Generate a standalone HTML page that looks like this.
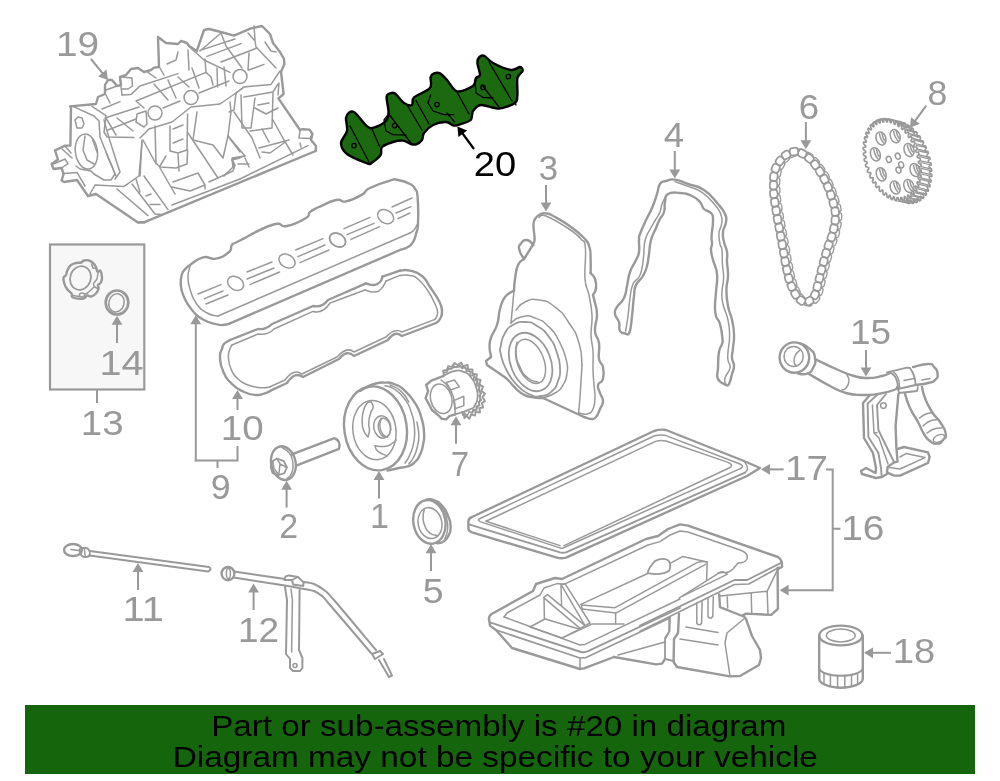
<!DOCTYPE html>
<html><head><meta charset="utf-8"><title>Engine parts diagram</title>
<style>
html,body{margin:0;padding:0;background:#fff;}
body{width:1000px;height:781px;overflow:hidden;font-family:"Liberation Sans",sans-serif;}
svg{display:block;position:absolute;left:0;top:0;will-change:transform;}
.g{fill:none;stroke:#999;stroke-width:2.4;stroke-linejoin:round;stroke-linecap:round;}
.t{fill:none;stroke:#999;stroke-width:1.5;stroke-linejoin:round;stroke-linecap:round;}
.w{fill:#fff;stroke:#999;stroke-width:2;stroke-linejoin:round;stroke-linecap:round;}
.lbl{font-family:"Liberation Sans",sans-serif;font-size:35px;fill:#999;}
.a{fill:#999;stroke:none;}
.gr{fill:#1b6a10;stroke:#000;stroke-width:2.4;stroke-linejoin:round;}
.gl{fill:none;stroke:#000;stroke-width:1.3;stroke-linecap:round;stroke-linejoin:round;}
.ab{fill:#000;stroke:none;}
</style></head>
<body>
<svg width="1000" height="781" viewBox="0 0 1000 781">
<rect x="0" y="0" width="1000" height="781" fill="#fff"/>
<!-- BANNER -->
<rect x="25" y="705" width="950" height="69" fill="#15650c"/>
<!-- box 13 with cap and ring 14 -->
<rect x="50" y="244.5" width="94.3" height="145" fill="#f7f7f7" stroke="#999" stroke-width="2.2"/>
<path class="g" d="M 63.5 278.0 C 63.9 275.9 65.1 276.9 66.0 275.0 C 66.9 273.1 66.3 272.3 67.5 270.0 C 68.7 267.7 69.0 266.6 71.0 265.0 C 73.0 263.4 73.7 263.6 76.0 263.0 C 78.3 262.4 79.1 263.1 81.0 262.5 C 82.9 261.9 82.1 261.0 84.0 260.5 C 85.9 260.0 86.9 259.9 89.0 260.5 C 91.1 261.1 91.4 261.5 93.0 263.0 C 94.6 264.5 95.0 265.0 96.0 267.0 C 97.0 269.0 96.5 270.6 97.5 271.5 C 98.5 272.4 99.5 269.5 100.5 271.0 C 101.5 272.5 102.0 275.2 102.0 278.0 C 102.0 280.8 101.4 281.4 100.5 283.0 C 99.6 284.6 98.5 283.6 98.0 285.0 C 97.5 286.4 99.1 286.9 98.5 289.0 C 97.9 291.1 97.2 292.2 95.5 294.0 C 93.8 295.8 93.0 296.1 91.0 296.5 C 89.0 296.9 88.8 295.0 87.0 295.5 C 85.2 296.0 86.8 298.0 83.5 298.5 C 80.2 299.0 75.8 298.7 73.0 297.5 C 70.2 296.3 72.9 295.5 71.5 293.5 C 70.1 291.5 68.6 291.2 67.0 289.0 C 65.4 286.8 65.3 286.6 64.5 284.0 C 63.7 281.4 63.1 280.1 63.5 278.0 Z"/>
<ellipse class="t" cx="80.5" cy="278.0" rx="10.3" ry="12.0" transform="rotate(20 80.5 278.0)" style="stroke-width:1.8"/>
<path class="t" d="M 91.5 264.0 L 93.0 268.0 L 95.5 268.5 M 98.0 273.0 L 97.0 279.0 L 93.5 283.5 L 94.0 286.5 L 97.5 288.5 M 93.5 287.5 L 87.5 293.0 L 85.5 294.0 M 73.0 295.5 L 79.0 296.5"/>
<ellipse class="t" cx="82.0" cy="295.0" rx="2.5" ry="2.0" transform="rotate(0 82.0 295.0)"/>
<ellipse class="g" cx="117.0" cy="302.5" rx="11.3" ry="12.0" transform="rotate(0 117.0 302.5)" style="stroke-width:2.6"/>
<ellipse class="t" cx="116.5" cy="302.8" rx="7.6" ry="9.2" transform="rotate(15 116.5 302.8)"/>
<!-- dipstick 11 -->
<ellipse class="g" cx="73.0" cy="550.0" rx="9.0" ry="6.0" transform="rotate(0 73.0 550.0)"/>
<path class="t" d="M 71.0 549.6 L 80.0 550.8"/>
<path class="g" d="M 80.0 549.0 C 81.3 547.9 82.6 547.7 85.0 548.0 C 87.4 548.3 87.8 548.1 89.0 550.0 C 90.2 551.9 90.4 553.1 89.6 555.0 C 88.8 556.9 88.0 556.7 86.0 557.0 C 84.0 557.3 83.6 557.3 82.0 556.0 C 80.4 554.7 80.5 553.9 80.0 552.0 C 79.5 550.1 78.7 550.1 80.0 549.0 Z" style="stroke-width:2"/>
<path class="t" d="M 84.4 548.4 L 85.2 556.8"/>
<path class="g" d="M 90.0 551.0 L 209.0 567.0 Q 212.4 569.2 208.0 571.6 L 89.6 555.6" style="stroke-width:2"/>
<!-- tube 12 -->
<ellipse class="g" cx="228.0" cy="573.6" rx="6.4" ry="6.6" transform="rotate(0 228.0 573.6)"/>
<ellipse class="t" cx="228.4" cy="573.6" rx="2.0" ry="5.0" transform="rotate(0 228.4 573.6)"/>
<path class="g" d="M 234.0 571.6 C 242.5 572.8 273.3 577.3 285.0 579.0 C 296.7 580.7 299.2 581.2 304.0 582.0 C 308.8 582.8 310.7 582.7 314.0 584.0 C 317.3 585.3 320.7 587.3 324.0 590.0 C 327.3 592.7 325.3 590.0 334.0 600.0 C 342.7 610.0 369.0 641.7 376.0 650.0" style="stroke-width:2"/>
<path class="g" d="M 233.6 577.6 C 242.2 578.9 273.3 583.7 285.0 585.6 C 296.7 587.5 299.2 588.1 304.0 589.0 C 308.8 589.9 311.0 589.8 314.0 591.0 C 317.0 592.2 319.3 593.7 322.0 596.0 C 324.7 598.3 321.8 595.5 330.0 605.0 C 338.2 614.5 364.2 645.0 371.0 653.0" style="stroke-width:2"/>
<path class="w" d="M 284.4 580.0 L 285.6 576.4 L 289.0 575.4 L 298.0 577.0 L 303.6 582.4 L 303.2 586.0 L 293.0 584.4 L 292.0 580.0 Z"/>
<path class="t" d="M 292.0 580.0 L 298.0 577.0"/>
<path class="g" d="M 285.0 587.0 L 287.0 600.0 L 286.0 654.0 L 290.0 659.0 L 290.0 668.0 L 293.0 671.0 L 300.0 671.0 L 302.4 668.0 L 302.4 658.0 L 299.0 650.0 L 299.6 590.0" style="stroke-width:2"/>
<path class="t" d="M 291.0 589.0 L 292.4 600.0 L 291.6 652.0"/>
<circle class="t" cx="295.0" cy="665.6" r="2.0"/>
<path class="g" d="M 372.0 654.0 L 380.0 651.0 L 383.0 654.0 L 375.0 659.0 Z M 379.0 660.0 L 389.0 677.0 L 392.0 675.6 L 384.0 659.0" style="stroke-width:2"/>
<!-- filter 18 -->
<ellipse class="g" cx="840.8" cy="635.5" rx="21.6" ry="9.9" transform="rotate(0 840.8 635.5)"/>
<ellipse class="t" cx="840.8" cy="635.5" rx="14.4" ry="6.4" transform="rotate(0 840.8 635.5)"/>
<path class="g" d="M 819.2 635.5 L 819.2 678.4 A 21.8 9.3 0 0 0 862.8 678.4 L 862.8 635.5"/>
<path class="g" style="stroke-width:2" d="M 819.2 668 A 21.8 7.7 0 0 0 862.8 668"/>
<path class="t" d="M 824.0 673.0 L 824.0 684.3 M 830.4 674.7 L 830.4 686.4 M 837.6 675.5 L 837.6 687.5 M 844.8 675.5 L 844.8 687.5 M 851.5 674.7 L 851.5 686.4 M 857.6 673.0 L 857.6 684.3"/>
<!-- pulley 1 -->
<ellipse class="g" cx="375.5" cy="428.4" rx="31.2" ry="42.2" transform="rotate(-9 375.5 428.4)"/>
<path class="g" d="M 360.0 391.0 C 363.8 389.1 365.0 387.0 372.5 384.5 C 380.0 382.0 378.2 382.6 385.0 382.6 C 391.8 382.6 389.0 382.1 395.0 384.5 C 401.0 386.9 399.0 385.1 405.0 390.8 C 411.0 396.4 410.1 395.4 415.0 403.2 C 419.9 411.1 418.6 408.4 421.2 417.0 C 423.9 425.6 423.4 423.8 424.0 432.0 C 424.6 440.2 424.3 437.8 423.1 444.5 C 421.9 451.2 422.4 449.2 420.0 454.5 C 417.6 459.8 418.8 458.4 415.0 462.0 C 411.2 465.6 412.8 464.5 407.5 466.4 C 402.2 468.2 403.5 467.0 397.5 468.2 C 391.5 469.5 390.5 469.8 387.5 470.5"/>
<path class="t" d="M 385.0 385.8 C 388.0 386.9 389.0 385.4 395.0 389.5 C 401.0 393.6 400.1 392.8 405.0 399.5 C 409.9 406.2 408.4 403.8 411.2 412.0 C 414.1 420.2 413.6 418.0 414.4 427.0 C 415.1 436.0 415.1 433.8 413.8 442.0 C 412.4 450.2 412.6 448.1 410.0 454.5 C 407.4 460.9 406.5 460.6 405.0 463.2"/>
<path class="t" d="M 390.0 384.8 C 393.4 386.7 395.6 386.2 401.2 391.4 C 406.9 396.6 406.5 398.8 408.8 402.0"/>
<path class="t" d="M 416.9 422.0 C 417.4 425.8 418.6 427.4 418.8 434.5 C 418.9 441.6 419.0 439.0 417.5 445.8 C 416.0 452.5 416.4 451.6 413.8 457.0 C 411.1 462.4 410.2 461.8 408.8 463.9"/>
<ellipse class="t" cx="374.4" cy="430.1" rx="21.5" ry="29.8" transform="rotate(-8 374.4 430.1)"/>
<path class="t" d="M 368.1 402.0 C 366.8 404.2 365.5 403.9 363.8 409.5 C 362.0 415.1 362.2 414.4 362.2 420.8 C 362.2 427.1 362.0 425.9 363.8 430.8 C 365.5 435.6 366.8 435.1 368.1 437.0"/>
<path class="t" d="M 371.2 402.0 C 371.8 403.5 373.3 403.6 373.1 407.0 C 372.9 410.4 371.9 408.8 370.6 413.2 C 369.3 417.8 369.1 416.8 368.8 422.0 C 368.4 427.2 369.6 426.4 369.4 430.8 C 369.2 435.1 368.5 434.7 368.1 436.4"/>
<path class="t" d="M 368.1 402.0 L 371.2 402.0"/>
<path class="t" d="M 375.0 445.8 C 378.0 445.9 379.8 447.1 385.0 446.4 C 390.2 445.6 389.1 445.1 392.5 443.2 C 395.9 441.4 395.1 441.1 396.2 440.1"/>
<path class="t" d="M 375.0 445.8 C 375.9 447.4 374.4 448.3 378.1 451.4 C 381.9 454.4 384.7 454.6 387.5 456.0"/>
<ellipse class="t" cx="382.2" cy="427.0" rx="8.5" ry="11.2" transform="rotate(-10 382.2 427.0)"/>
<ellipse class="t" cx="384.4" cy="427.6" rx="6.0" ry="9.5" transform="rotate(-10 384.4 427.6)"/>
<path class="t" d="M 381.2 418.2 C 380.9 420.9 379.4 422.1 380.0 427.0 C 380.6 431.9 380.9 431.5 383.1 434.5 C 385.4 437.5 386.2 436.2 387.5 437.0"/>
<!-- bolt 2 -->
<ellipse class="g" cx="283.4" cy="463.1" rx="12.2" ry="17.0" transform="rotate(-12 283.4 463.1)"/>
<path class="t" d="M 281.9 447.5 C 284.1 449.2 286.1 448.6 289.4 453.1 C 292.6 457.6 292.0 456.7 292.8 462.5 C 293.5 468.3 293.6 467.6 291.9 472.5 C 290.1 477.4 288.4 477.1 286.9 479.0"/>
<path class="g" d="M 272.5 461.2 L 276.9 458.5 L 283.8 461.2 L 286.9 467.5 L 284.4 473.1 L 278.8 475.0 L 272.5 473.1 L 270.6 466.9 Z" style="stroke-width:1.8"/>
<path class="t" d="M 276.9 458.5 L 280.0 463.8 L 286.9 467.5 M 280.0 463.8 L 278.8 475.0 M 273.1 461.9 L 273.8 468.1 L 278.8 475.0"/>
<path class="g" d="M 291.9 454.4 L 334.4 438.1 Q 341.2 440.6 339.0 448.8 L 296.2 465.6"/>
<!-- sprocket 7 -->
<path class="g" d="M 455.0 414.4 L 449.4 416.2 L 446.2 419.4 L 441.9 418.8 L 438.1 415.0 L 431.9 410.0 L 429.4 405.0 L 425.6 398.1 L 428.1 391.2 L 426.2 385.0 L 431.2 380.6 L 443.1 376.2"/>
<ellipse class="t" cx="441.2" cy="398.8" rx="10.5" ry="15.0" transform="rotate(-15 441.2 398.8)"/>
<path class="g" d="M 443.1 376.2 C 446.3 374.8 447.6 372.6 453.8 371.2 C 459.9 369.9 458.5 370.0 463.8 371.9 C 469.0 373.8 467.5 372.8 471.2 377.5 C 475.0 382.2 474.4 381.5 476.2 387.5 C 478.1 393.5 477.9 392.2 477.5 397.5 C 477.1 402.8 477.2 401.4 475.0 405.0 C 472.8 408.6 476.0 406.6 470.0 409.4 C 464.0 412.2 459.5 412.9 455.0 414.4" style="stroke-width:1.8"/>
<path class="t" d="M 441.2 380.0 C 443.5 382.2 445.0 381.9 448.8 387.5 C 452.5 393.1 451.9 392.0 453.8 398.8 C 455.6 405.5 454.6 405.1 455.0 410.0 C 455.4 414.9 455.0 413.5 455.0 415.0"/>
<path class="t" d="M 446.2 382.5 L 454.4 380.0 L 459.4 386.9 L 450.6 390.0 Z M 453.8 400.6 L 463.8 396.2 L 463.8 405.6 L 455.0 408.8 Z"/>
<path class="g" d="M 443.8 374.4 L 443.1 370.6 L 446.9 370.0 L 448.1 366.2 L 451.9 366.9 L 454.4 363.1 L 457.5 365.0 L 461.2 362.5 L 463.1 366.2 L 467.5 365.0 L 468.1 369.4 L 472.5 369.4 L 472.5 373.8 L 476.9 374.4 L 476.2 378.8 L 480.6 380.0 L 479.4 384.4 L 483.1 386.9 L 481.2 390.6 L 485.0 393.8 L 482.5 396.9 L 485.0 401.2 L 481.9 403.1 L 483.1 407.5 L 479.4 408.1 L 480.0 412.5 L 475.6 411.9 L 475.0 415.6 L 471.2 414.4 L 469.4 418.8 L 466.2 415.6 L 464.4 418.1 L 463.8 414.4" style="stroke-width:1.9"/>
<path class="t" d="M 444.2 375.8 L 443.8 372.5 L 447.0 371.9 L 448.2 368.5 L 451.5 369.0 L 453.8 365.8 L 456.6 367.4 L 460.0 365.1 L 461.8 368.5 L 465.6 367.4 L 466.2 371.2 L 470.1 371.2 L 470.1 375.2 L 474.0 375.8 L 473.5 379.8 L 477.5 380.9 L 476.2 384.8 L 479.8 387.0 L 478.0 390.5 L 481.4 393.2 L 479.1 396.0 L 481.4 400.0 L 478.5 401.8 L 479.8 405.6 L 476.2 406.2 L 476.9 410.1 L 473.0 409.5 L 472.4 413.0 L 469.0 411.8 L 467.2 415.8 L 464.5 413.0 L 462.8 415.2 L 462.2 411.8"/>
<path class="t" d="M 447.5 370.0 C 450.5 369.1 451.5 367.1 457.5 366.9 C 463.5 366.7 462.2 366.2 467.5 369.4 C 472.8 372.6 471.4 371.7 475.0 377.5 C 478.6 383.3 477.9 382.4 479.4 388.8 C 480.9 395.1 480.6 393.1 480.0 398.8 C 479.4 404.4 480.1 403.4 477.5 407.5 C 474.9 411.6 473.1 411.0 471.2 412.5"/>
<!-- seal 5 -->
<ellipse class="g" cx="429.4" cy="521.9" rx="16.0" ry="22.0" transform="rotate(-10 429.4 521.9)"/>
<path class="g" d="M 426.2 499.8 C 428.5 499.8 428.9 498.1 433.8 500.0 C 438.6 501.9 438.2 501.4 442.5 506.2 C 446.8 511.1 445.7 510.2 448.1 516.2 C 450.6 522.2 450.4 520.6 450.6 526.2 C 450.8 531.9 450.8 530.5 448.8 535.0 C 446.7 539.5 447.1 538.7 443.8 541.2 C 440.4 543.8 439.4 542.7 437.5 543.4"/>
<ellipse class="t" cx="430.0" cy="523.1" rx="11.8" ry="15.6" transform="rotate(-12 430.0 523.1)"/>
<path class="t" d="M 424.4 509.4 C 424.0 511.8 422.9 512.4 423.1 517.5 C 423.3 522.6 422.9 521.6 425.0 526.2 C 427.1 530.9 426.2 530.3 430.0 533.1 C 433.8 535.9 435.2 534.9 437.5 535.6"/>
<path class="t" d="M 437.5 502.5 C 439.4 504.8 440.9 504.8 443.8 510.0 C 446.6 515.2 445.8 514.0 446.9 520.0 C 448.0 526.0 448.1 524.4 447.5 530.0 C 446.9 535.6 445.8 536.1 445.0 538.8"/>
<!-- timing cover 3 -->
<path class="g" d="M 535.0 219.0 C 536.1 217.9 536.1 216.5 539.0 215.0 C 541.9 213.5 541.7 212.9 546.0 213.4 C 550.3 213.9 548.3 213.4 555.0 217.0 C 561.7 220.6 563.3 221.4 571.0 227.0 C 578.7 232.6 579.1 232.7 584.0 238.0 C 588.9 243.3 587.6 241.4 589.4 247.0 C 591.2 252.6 590.3 252.1 590.6 259.0 C 590.9 265.9 590.6 269.3 590.6 273.0"/>
<path class="g" d="M 590.6 273.0 C 591.9 274.8 593.4 274.5 595.0 279.0 C 596.6 283.5 596.6 283.2 596.0 288.0 C 595.4 292.8 593.9 292.9 593.0 295.0"/>
<path class="g" d="M 593.0 295.0 C 593.5 297.1 593.9 297.7 595.0 303.0 C 596.1 308.3 597.0 307.5 597.0 315.0 C 597.0 322.5 594.5 323.5 595.0 331.0 C 595.5 338.5 597.9 335.5 599.0 343.0 C 600.1 350.5 597.9 352.6 599.0 359.0 C 600.1 365.4 601.9 361.7 603.0 367.0 C 604.1 372.3 604.3 374.2 603.0 379.0 C 601.7 383.8 598.8 381.3 598.0 385.0 C 597.2 388.7 598.7 388.7 600.0 393.0 C 601.3 397.3 603.0 396.7 603.0 401.0 C 603.0 405.3 601.9 404.7 600.0 409.0 C 598.1 413.3 598.4 414.3 596.0 417.0 C 593.6 419.7 594.2 419.0 591.0 419.0 C 587.8 419.0 585.9 417.5 584.0 417.0"/>
<path class="g" d="M 584.0 417.0 L 543.0 398.0"/>
<path class="g" d="M 543.0 398.0 C 540.3 397.8 538.9 398.7 533.0 397.4 C 527.1 396.1 527.4 397.4 521.0 393.0 C 514.6 388.6 513.0 385.0 509.0 381.0 C 505.0 377.0 506.8 378.8 506.0 378.0"/>
<path class="g" d="M 506.0 378.0 L 487.0 365.0 L 486.0 361.0 L 491.0 357.0"/>
<path class="g" d="M 491.0 357.0 C 490.7 352.7 488.4 349.5 490.0 341.0 C 491.6 332.5 494.3 333.5 497.0 325.0 C 499.7 316.5 497.9 316.5 500.0 309.0 C 502.1 301.5 501.3 301.9 505.0 297.0 C 508.7 292.1 511.6 292.3 514.0 290.6"/>
<path class="g" d="M 535.0 219.0 C 534.6 220.6 533.5 219.7 533.4 225.0 C 533.3 230.3 534.7 234.2 534.6 239.0 C 534.5 243.8 533.4 241.9 533.0 243.0"/>
<path class="g" d="M 533.4 245.0 C 531.5 243.5 530.8 240.3 527.0 240.0 C 523.2 239.7 522.9 241.0 520.6 244.0 C 518.3 247.0 518.4 245.5 519.4 250.0 C 520.4 254.5 522.6 256.3 524.0 259.0"/>
<path class="g" d="M 524.0 259.0 L 533.4 244.0"/>
<path class="g" d="M 524.0 259.0 C 522.4 260.6 520.4 259.7 518.0 265.0 C 515.6 270.3 516.1 272.2 515.0 279.0 C 513.9 285.8 514.3 287.5 514.0 290.6"/>
<path class="t" d="M 539.0 217.4 C 540.6 217.1 539.0 213.3 546.0 216.0 C 553.0 218.7 560.8 223.6 569.0 229.0 C 577.2 234.4 577.2 234.6 581.0 239.0 C 584.8 243.4 584.5 238.7 585.4 248.0 C 586.3 257.3 584.2 268.0 585.0 279.0 C 585.8 290.0 587.4 286.6 589.0 295.0 C 590.6 303.4 591.5 305.7 592.0 315.0 C 592.5 324.3 590.8 326.6 591.0 335.0 C 591.2 343.4 592.5 343.1 593.0 351.0 C 593.5 358.9 592.8 361.1 593.0 369.0 C 593.2 376.9 593.5 378.5 594.0 385.0 C 594.5 391.5 595.2 391.4 595.0 397.0 C 594.8 402.6 594.9 405.0 593.0 409.0 C 591.1 413.0 590.3 413.1 587.0 414.0 C 583.7 414.9 580.9 413.2 579.0 413.0"/>
<path class="t" d="M 514.0 290.6 L 511.0 323.0"/>
<path class="t" d="M 582.0 365.0 L 580.0 397.0 L 578.6 413.0"/>
<path class="t" d="M 516.0 310.0 C 518.7 307.6 518.1 305.0 525.0 302.0 C 531.9 299.0 530.0 298.5 539.0 300.0 C 548.0 301.5 546.0 300.1 555.0 307.0 C 564.0 313.9 561.8 312.2 569.0 323.0 C 576.2 333.8 575.1 330.4 579.0 343.0 C 582.9 355.6 581.1 358.4 582.0 365.0"/>
<path class="t" d="M 511.0 323.0 C 514.0 321.2 513.8 318.5 521.0 317.0 C 528.2 315.5 526.6 315.0 535.0 318.0 C 543.4 321.0 541.8 320.1 549.0 327.0 C 556.2 333.9 553.9 331.4 559.0 341.0 C 564.1 350.6 563.6 349.4 566.0 359.0 C 568.4 368.6 567.9 365.2 567.0 373.0 C 566.1 380.8 566.6 379.0 563.0 385.0 C 559.4 391.0 561.0 389.1 555.0 393.0 C 549.0 396.9 546.6 396.5 543.0 398.0"/>
<path class="g" d="M 501.0 345.0 C 502.2 338.4 501.4 339.0 505.0 333.0 C 508.6 327.0 507.0 328.3 513.0 325.0 C 519.0 321.7 517.8 321.7 525.0 322.0 C 532.2 322.3 529.8 321.5 537.0 326.0 C 544.2 330.5 543.0 328.9 549.0 337.0 C 555.0 345.1 553.7 343.4 557.0 353.0 C 560.3 362.6 559.7 360.6 560.0 369.0 C 560.3 377.4 560.4 374.4 558.0 381.0 C 555.6 387.6 557.1 386.5 552.0 391.0 C 546.9 395.5 547.9 395.1 541.0 396.0 C 534.1 396.9 536.2 397.3 529.0 394.0 C 521.8 390.7 523.6 391.9 517.0 385.0 C 510.4 378.1 511.8 380.0 507.0 371.0 C 502.2 362.0 502.8 362.8 501.0 355.0 C 499.2 347.2 499.8 351.6 501.0 345.0 Z" style="stroke-width:1.8"/>
<ellipse class="g" cx="530.6" cy="362.0" rx="20.0" ry="30.4" transform="rotate(-22 530.6 362.0)" style="stroke-width:1.8"/>
<ellipse class="t" cx="530.6" cy="361.4" rx="13.2" ry="23.2" transform="rotate(-22 530.6 361.4)"/>
<path class="t" d="M 517.0 342.0 C 516.7 345.3 515.1 345.5 516.0 353.0 C 516.9 360.5 516.4 359.5 520.0 367.0 C 523.6 374.5 522.3 373.3 528.0 378.0 C 533.7 382.7 535.7 381.2 539.0 382.6"/>
<!-- gasket 4 -->
<path class="g" d="M 625.6 333.6 C 624.1 332.9 621.8 334.1 620.0 331.0 C 618.2 327.9 620.3 326.5 619.0 322.0 C 617.7 317.5 615.5 318.0 615.0 314.0 C 614.5 310.0 614.6 311.3 617.0 307.0 C 619.4 302.7 621.3 303.6 624.0 298.0 C 626.7 292.4 625.4 292.9 627.0 286.0 C 628.6 279.1 627.6 278.9 630.0 272.0 C 632.4 265.1 633.6 265.3 636.0 260.0 C 638.4 254.7 638.2 257.3 639.0 252.0 C 639.8 246.7 638.7 244.8 639.0 240.0 C 639.3 235.2 638.1 239.3 640.0 234.0 C 641.9 228.7 642.8 226.9 646.0 220.0 C 649.2 213.1 649.1 214.9 652.0 208.0 C 654.9 201.1 654.9 200.4 657.0 194.0 C 659.1 187.6 657.6 187.5 660.0 184.0 C 662.4 180.5 662.0 182.2 666.0 181.0 C 670.0 179.8 669.1 178.8 675.0 179.6 C 680.9 180.4 680.3 181.2 688.0 184.0 C 695.7 186.8 696.0 184.7 704.0 190.0 C 712.0 195.3 712.4 197.6 718.0 204.0 C 723.6 210.4 722.9 209.2 725.0 214.0 C 727.1 218.8 726.5 217.2 726.0 222.0 C 725.5 226.8 723.5 226.7 723.0 232.0 C 722.5 237.3 722.9 236.7 724.0 242.0 C 725.1 247.3 726.2 246.7 727.0 252.0 C 727.8 257.3 726.7 255.6 727.0 262.0 C 727.3 268.4 728.2 268.5 728.0 276.0 C 727.8 283.5 726.4 282.0 726.4 290.0 C 726.4 298.0 726.5 298.0 728.0 306.0 C 729.5 314.0 730.4 312.5 732.0 320.0 C 733.6 327.5 733.7 326.5 734.0 334.0 C 734.3 341.5 733.5 341.6 733.0 348.0 C 732.5 354.4 731.7 353.2 732.0 358.0 C 732.3 362.8 734.0 361.7 734.0 366.0 C 734.0 370.3 733.3 369.2 732.0 374.0 C 730.7 378.8 730.6 381.1 729.0 384.0 C 727.4 386.9 726.8 384.7 726.0 385.0"/>
<path class="g" d="M 625.6 333.6 C 626.7 333.2 627.9 336.7 629.6 332.0 C 631.3 327.3 630.8 325.6 632.0 316.0 C 633.2 306.4 632.9 304.3 634.0 296.0 C 635.1 287.7 633.6 290.3 636.0 285.0 C 638.4 279.7 640.1 281.1 643.0 276.0 C 645.9 270.9 645.4 271.9 647.0 266.0 C 648.6 260.1 647.9 260.9 649.0 254.0 C 650.1 247.1 649.1 246.9 651.0 240.0 C 652.9 233.1 653.8 233.3 656.0 228.0 C 658.2 222.7 657.3 224.3 659.4 220.0 C 661.5 215.7 662.5 216.8 664.0 212.0 C 665.5 207.2 663.9 206.8 665.0 202.0 C 666.1 197.2 664.0 196.4 668.0 194.0 C 672.0 191.6 673.6 192.5 680.0 193.0 C 686.4 193.5 686.7 193.6 692.0 196.0 C 697.3 198.4 696.8 198.5 700.0 202.0 C 703.2 205.5 701.1 206.1 704.0 209.0 C 706.9 211.9 708.6 210.1 711.0 213.0 C 713.4 215.9 712.8 213.9 713.0 220.0 C 713.2 226.1 711.9 229.6 711.6 236.0 C 711.3 242.4 712.2 240.3 712.0 244.0 C 711.8 247.7 710.7 245.7 711.0 250.0 C 711.3 254.3 711.4 253.6 713.0 260.0 C 714.6 266.4 716.2 265.5 717.0 274.0 C 717.8 282.5 716.5 283.5 716.0 292.0 C 715.5 300.5 715.0 299.6 715.0 306.0 C 715.0 312.4 714.7 311.2 716.0 316.0 C 717.3 320.8 718.3 318.1 720.0 324.0 C 721.7 329.9 721.9 332.7 722.4 338.0 C 722.9 343.3 722.9 340.3 722.0 344.0 C 721.1 347.7 720.1 345.6 719.0 352.0 C 717.9 358.4 718.3 360.8 718.0 368.0 C 717.7 375.2 715.9 374.5 718.0 379.0 C 720.1 383.5 723.9 383.4 726.0 385.0"/>
<path class="t" d="M 625.6 331.0 C 626.2 327.0 626.8 324.8 628.0 316.0 C 629.2 307.2 628.7 306.5 630.0 298.0 C 631.3 289.5 630.6 289.6 633.0 284.0 C 635.4 278.4 636.6 281.3 639.0 277.0 C 641.4 272.7 640.8 273.6 642.0 268.0 C 643.2 262.4 642.7 263.5 643.6 256.0 C 644.5 248.5 643.3 247.5 645.2 240.0 C 647.1 232.5 648.1 233.3 650.8 228.0 C 653.5 222.7 652.9 224.3 655.4 220.0 C 657.9 215.7 658.2 216.3 660.0 212.0 C 661.8 207.7 660.3 208.4 662.0 204.0 C 663.7 199.6 665.2 197.8 666.4 195.6"/>
<path class="t" d="M 675.0 181.6 C 678.5 182.9 680.8 183.5 688.0 186.4 C 695.2 189.3 694.8 187.4 702.0 192.4 C 709.2 197.4 709.9 199.0 715.0 205.0 C 720.1 211.0 719.2 209.9 721.0 215.0 C 722.8 220.1 722.1 219.2 721.6 224.0 C 721.1 228.8 719.4 227.7 719.0 233.0 C 718.6 238.3 719.2 239.5 720.0 244.0 C 720.8 248.5 721.4 244.7 722.0 250.0 C 722.6 255.3 722.0 256.5 722.4 264.0 C 722.8 271.5 723.7 270.5 723.6 278.0 C 723.5 285.5 722.2 285.1 722.0 292.0 C 721.8 298.9 721.4 296.5 723.0 304.0 C 724.6 311.5 726.2 311.5 728.0 320.0 C 729.8 328.5 729.6 327.5 729.6 336.0 C 729.6 344.5 728.4 345.6 728.0 352.0 C 727.6 358.4 727.5 355.7 728.0 360.0 C 728.5 364.3 730.8 363.2 730.0 368.0 C 729.2 372.8 726.1 373.5 725.0 378.0 C 723.9 382.5 725.7 383.1 726.0 385.0"/>
<!-- chain 6 -->
<g fill="#fff" stroke="#999" stroke-width="1.3"><rect x="797.2" y="149.3" width="8.0" height="6.6" rx="2.4" transform="rotate(17 801.2 152.6)"/><rect x="804.9" y="153.1" width="8.0" height="6.6" rx="2.4" transform="rotate(34 808.9 156.4)"/><rect x="811.4" y="158.7" width="8.0" height="6.6" rx="2.4" transform="rotate(48 815.4 162.0)"/><rect x="816.7" y="165.5" width="8.0" height="6.6" rx="2.4" transform="rotate(55 820.7 168.8)"/><rect x="821.3" y="172.7" width="8.0" height="6.6" rx="2.4" transform="rotate(60 825.3 176.0)"/><rect x="825.2" y="180.3" width="8.0" height="6.6" rx="2.4" transform="rotate(65 829.2 183.6)"/><rect x="828.5" y="188.3" width="8.0" height="6.6" rx="2.4" transform="rotate(70 832.5 191.6)"/><rect x="831.2" y="196.4" width="8.0" height="6.6" rx="2.4" transform="rotate(72 835.2 199.7)"/><rect x="833.5" y="204.7" width="8.0" height="6.6" rx="2.4" transform="rotate(78 837.5 208.0)"/><rect x="834.4" y="213.3" width="8.0" height="6.6" rx="2.4" transform="rotate(90 838.4 216.6)"/><rect x="833.6" y="221.8" width="8.0" height="6.6" rx="2.4" transform="rotate(100 837.6 225.1)"/><rect x="831.9" y="230.2" width="8.0" height="6.6" rx="2.4" transform="rotate(104 835.9 233.5)"/><rect x="829.1" y="238.4" width="8.0" height="6.6" rx="2.4" transform="rotate(111 833.1 241.7)"/><rect x="826.2" y="246.5" width="8.0" height="6.6" rx="2.4" transform="rotate(107 830.2 249.8)"/><rect x="823.8" y="254.7" width="8.0" height="6.6" rx="2.4" transform="rotate(106 827.8 258.0)"/><rect x="821.6" y="263.0" width="8.0" height="6.6" rx="2.4" transform="rotate(105 825.6 266.3)"/><rect x="819.5" y="271.3" width="8.0" height="6.6" rx="2.4" transform="rotate(104 823.5 274.6)"/><rect x="817.4" y="279.7" width="8.0" height="6.6" rx="2.4" transform="rotate(105 821.4 283.0)"/><rect x="815.3" y="288.0" width="8.0" height="6.6" rx="2.4" transform="rotate(105 819.3 291.3)"/><rect x="811.6" y="295.6" width="8.0" height="6.6" rx="2.4" transform="rotate(132 815.6 298.9)"/><rect x="804.1" y="299.3" width="8.0" height="6.6" rx="2.4" transform="rotate(-174 808.1 302.6)"/><rect x="796.9" y="295.0" width="8.0" height="6.6" rx="2.4" transform="rotate(-132 800.9 298.3)"/><rect x="792.3" y="287.8" width="8.0" height="6.6" rx="2.4" transform="rotate(-116 796.3 291.1)"/><rect x="789.1" y="279.8" width="8.0" height="6.6" rx="2.4" transform="rotate(-109 793.1 283.1)"/><rect x="786.8" y="271.5" width="8.0" height="6.6" rx="2.4" transform="rotate(-102 790.8 274.8)"/><rect x="785.1" y="263.1" width="8.0" height="6.6" rx="2.4" transform="rotate(-101 789.1 266.4)"/><rect x="783.5" y="254.7" width="8.0" height="6.6" rx="2.4" transform="rotate(-100 787.5 258.0)"/><rect x="782.1" y="246.2" width="8.0" height="6.6" rx="2.4" transform="rotate(-100 786.1 249.5)"/><rect x="780.5" y="237.7" width="8.0" height="6.6" rx="2.4" transform="rotate(-101 784.5 241.0)"/><rect x="778.9" y="229.3" width="8.0" height="6.6" rx="2.4" transform="rotate(-101 782.9 232.6)"/><rect x="777.4" y="220.8" width="8.0" height="6.6" rx="2.4" transform="rotate(-100 781.4 224.1)"/><rect x="775.9" y="212.4" width="8.0" height="6.6" rx="2.4" transform="rotate(-100 779.9 215.7)"/><rect x="774.5" y="203.9" width="8.0" height="6.6" rx="2.4" transform="rotate(-99 778.5 207.2)"/><rect x="773.2" y="195.4" width="8.0" height="6.6" rx="2.4" transform="rotate(-97 777.2 198.7)"/><rect x="772.5" y="186.8" width="8.0" height="6.6" rx="2.4" transform="rotate(-92 776.5 190.1)"/><rect x="772.5" y="178.2" width="8.0" height="6.6" rx="2.4" transform="rotate(-88 776.5 181.5)"/><rect x="773.5" y="169.7" width="8.0" height="6.6" rx="2.4" transform="rotate(-78 777.5 173.0)"/><rect x="776.7" y="161.8" width="8.0" height="6.6" rx="2.4" transform="rotate(-60 780.7 165.1)"/><rect x="781.8" y="154.9" width="8.0" height="6.6" rx="2.4" transform="rotate(-45 785.8 158.2)"/><rect x="788.9" y="150.2" width="8.0" height="6.6" rx="2.4" transform="rotate(-24 792.9 153.5)"/></g>
<g fill="#fff" stroke="#999" stroke-width="1.7"><rect x="798.1" y="149.9" width="8.2" height="7.4" rx="2.6" transform="rotate(27 802.2 153.6)"/><rect x="805.2" y="154.7" width="8.2" height="7.4" rx="2.6" transform="rotate(40 809.3 158.4)"/><rect x="811.1" y="161.0" width="8.2" height="7.4" rx="2.6" transform="rotate(52 815.2 164.7)"/><rect x="815.9" y="168.0" width="8.2" height="7.4" rx="2.6" transform="rotate(58 820.0 171.7)"/><rect x="820.3" y="175.5" width="8.2" height="7.4" rx="2.6" transform="rotate(62 824.4 179.2)"/><rect x="823.8" y="183.3" width="8.2" height="7.4" rx="2.6" transform="rotate(68 827.9 187.0)"/><rect x="826.8" y="191.4" width="8.2" height="7.4" rx="2.6" transform="rotate(72 830.9 195.1)"/><rect x="829.3" y="199.6" width="8.2" height="7.4" rx="2.6" transform="rotate(75 833.4 203.3)"/><rect x="831.1" y="208.0" width="8.2" height="7.4" rx="2.6" transform="rotate(83 835.2 211.7)"/><rect x="831.1" y="216.5" width="8.2" height="7.4" rx="2.6" transform="rotate(95 835.2 220.2)"/><rect x="829.7" y="225.0" width="8.2" height="7.4" rx="2.6" transform="rotate(102 833.8 228.7)"/><rect x="827.5" y="233.3" width="8.2" height="7.4" rx="2.6" transform="rotate(109 831.6 237.0)"/><rect x="824.5" y="241.4" width="8.2" height="7.4" rx="2.6" transform="rotate(110 828.6 245.1)"/><rect x="821.9" y="249.6" width="8.2" height="7.4" rx="2.6" transform="rotate(106 826.0 253.3)"/><rect x="819.6" y="257.8" width="8.2" height="7.4" rx="2.6" transform="rotate(105 823.7 261.5)"/><rect x="817.4" y="266.2" width="8.2" height="7.4" rx="2.6" transform="rotate(104 821.5 269.9)"/><rect x="815.4" y="274.5" width="8.2" height="7.4" rx="2.6" transform="rotate(104 819.5 278.2)"/><rect x="813.3" y="282.8" width="8.2" height="7.4" rx="2.6" transform="rotate(104 817.4 286.5)"/><rect x="810.8" y="291.1" width="8.2" height="7.4" rx="2.6" transform="rotate(115 814.9 294.8)"/><rect x="805.1" y="297.3" width="8.2" height="7.4" rx="2.6" transform="rotate(152 809.2 301.0)"/><rect x="797.0" y="296.8" width="8.2" height="7.4" rx="2.6" transform="rotate(-148 801.1 300.5)"/><rect x="791.3" y="290.5" width="8.2" height="7.4" rx="2.6" transform="rotate(-121 795.4 294.2)"/><rect x="787.5" y="282.8" width="8.2" height="7.4" rx="2.6" transform="rotate(-112 791.6 286.5)"/><rect x="784.7" y="274.7" width="8.2" height="7.4" rx="2.6" transform="rotate(-105 788.8 278.4)"/><rect x="782.8" y="266.3" width="8.2" height="7.4" rx="2.6" transform="rotate(-101 786.9 270.0)"/><rect x="781.1" y="257.9" width="8.2" height="7.4" rx="2.6" transform="rotate(-101 785.2 261.6)"/><rect x="779.7" y="249.4" width="8.2" height="7.4" rx="2.6" transform="rotate(-99 783.8 253.1)"/><rect x="778.2" y="241.0" width="8.2" height="7.4" rx="2.6" transform="rotate(-100 782.3 244.7)"/><rect x="776.6" y="232.5" width="8.2" height="7.4" rx="2.6" transform="rotate(-101 780.7 236.2)"/><rect x="775.1" y="224.1" width="8.2" height="7.4" rx="2.6" transform="rotate(-100 779.2 227.8)"/><rect x="773.5" y="215.6" width="8.2" height="7.4" rx="2.6" transform="rotate(-100 777.6 219.3)"/><rect x="772.1" y="207.1" width="8.2" height="7.4" rx="2.6" transform="rotate(-99 776.2 210.8)"/><rect x="770.7" y="198.6" width="8.2" height="7.4" rx="2.6" transform="rotate(-99 774.8 202.3)"/><rect x="769.7" y="190.1" width="8.2" height="7.4" rx="2.6" transform="rotate(-95 773.8 193.8)"/><rect x="769.4" y="181.5" width="8.2" height="7.4" rx="2.6" transform="rotate(-90 773.5 185.2)"/><rect x="769.7" y="173.0" width="8.2" height="7.4" rx="2.6" transform="rotate(-84 773.8 176.7)"/><rect x="771.6" y="164.6" width="8.2" height="7.4" rx="2.6" transform="rotate(-68 775.7 168.3)"/><rect x="775.9" y="157.2" width="8.2" height="7.4" rx="2.6" transform="rotate(-54 780.0 160.9)"/><rect x="782.0" y="151.2" width="8.2" height="7.4" rx="2.6" transform="rotate(-34 786.1 154.9)"/><rect x="789.9" y="147.9" width="8.2" height="7.4" rx="2.6" transform="rotate(-7 794.0 151.6)"/></g>
<!-- sprocket 8 -->
<path class="g" d="M 882.8 130.6 L 881.8 127.0 L 882.6 126.1 L 884.9 128.5 L 885.5 128.0 L 884.8 124.2 L 885.8 123.6 L 888.0 126.4 L 888.6 126.0 L 888.2 122.4 L 889.2 121.9 L 891.2 125.0 L 891.9 124.8 L 891.9 121.2 L 893.1 121.1 L 894.8 124.4 L 895.5 124.4 L 895.9 121.0 L 897.1 121.0 L 898.5 124.6 L 899.2 124.8 L 900.0 121.5 L 901.2 121.9 L 902.2 125.5 L 903.0 125.8 L 904.1 122.9 L 905.4 123.5 L 906.1 127.2 L 906.9 127.6 L 908.2 125.1 L 909.4 125.9 L 909.8 129.6 L 910.5 130.1 L 912.2 128.1 L 913.4 129.1 L 913.4 132.6 L 914.1 133.4 L 916.0 131.8 L 917.1 132.9 L 916.8 136.4 L 917.4 137.1 L 919.6 136.0 L 920.6 137.4 L 919.9 140.5 L 920.4 141.4 L 922.8 140.8 L 923.6 142.4 L 922.6 145.1 L 923.1 146.1 L 925.6 146.0 L 926.4 147.6 L 924.9 150.1 L 925.4 151.1 L 927.9 151.6 L 928.5 153.2 L 926.8 155.4 L 927.1 156.5 L 929.8 157.4 L 930.1 159.1 L 928.2 160.8 L 928.4 161.9 L 931.0 163.2 L 931.2 165.0 L 929.1 166.1 L 929.1 167.2 L 931.6 169.1 L 931.8 170.9 L 929.4 171.5 L 929.4 172.5 L 931.8 174.9 L 931.8 176.5 L 929.2 176.6 L 929.1 177.6 L 931.2 180.4 L 931.0 181.9 L 928.5 181.5 L 928.2 182.4 L 930.2 185.4 L 929.8 186.9 L 927.2 185.9 L 926.9 186.8 L 928.6 190.0 L 928.0 191.4 L 925.4 189.9 L 925.0 190.6 L 926.5 194.1 L 925.8 195.2 L 923.2 193.2 L 922.8 193.9 L 923.8 197.5 L 922.9 198.4 L 920.6 196.0 L 920.0 196.5 L 920.8 200.2 L 919.8 200.9 L 917.5 198.1 L 916.9 198.5 L 917.2 202.1 L 916.2 202.6 L 914.2 199.5 L 913.6 199.8 L 913.6 203.2 L 912.4 203.4 L 910.8 200.1 L 910.0 200.1 L 909.6 203.5 L 908.4 203.5 L 907.0 199.9" style="stroke-width:1.5"/>
<path class="t" d="M 871.2 124.5 L 881.8 127.0 M 874.2 121.8 L 884.8 124.2 M 877.8 119.9 L 888.2 122.4 M 881.4 118.8 L 891.9 121.2 M 885.4 118.5 L 895.9 121.0 M 889.5 119.0 L 900.0 121.5 M 893.6 120.4 L 904.1 122.9 M 897.8 122.6 L 908.2 125.1 M 901.8 125.6 L 912.2 128.1 M 905.5 129.2 L 916.0 131.8 M 909.1 133.5 L 919.6 136.0 M 912.2 138.2 L 922.8 140.8 M 915.1 143.5 L 925.6 146.0 M 917.4 149.1 L 927.9 151.6 M 919.2 154.9 L 929.8 157.4 M 920.5 160.8 L 931.0 163.2 M 921.1 166.6 L 931.6 169.1 M 921.2 172.4 L 931.8 174.9 M 920.8 177.9 L 931.2 180.4 M 919.8 182.9 L 930.2 185.4 M 918.1 187.5 L 928.6 190.0 M 916.0 191.6 L 926.5 194.1 M 913.2 195.0 L 923.8 197.5 M 910.2 197.8 L 920.8 200.2 M 906.8 199.6 L 917.2 202.1 M 903.1 200.8 L 913.6 203.2 M 899.1 201.0 L 909.6 203.5 M 872.1 123.6 L 882.6 126.1 M 875.2 121.1 L 885.8 123.6 M 878.8 119.4 L 889.2 121.9 M 882.6 118.6 L 893.1 121.1 M 886.6 118.5 L 897.1 121.0 M 890.8 119.4 L 901.2 121.9 M 894.9 121.0 L 905.4 123.5 M 898.9 123.4 L 909.4 125.9 M 902.9 126.6 L 913.4 129.1 M 906.6 130.4 L 917.1 132.9 M 910.1 134.9 L 920.6 137.4 M 913.1 139.9 L 923.6 142.4 M 915.9 145.1 L 926.4 147.6 M 918.0 150.8 L 928.5 153.2 M 919.6 156.6 L 930.1 159.1 M 920.8 162.5 L 931.2 165.0 M 921.2 168.4 L 931.8 170.9 M 921.2 174.0 L 931.8 176.5 M 920.5 179.4 L 931.0 181.9 M 919.2 184.4 L 929.8 186.9 M 917.5 188.9 L 928.0 191.4 M 915.2 192.8 L 925.8 195.2 M 912.4 195.9 L 922.9 198.4 M 909.2 198.4 L 919.8 200.9 M 905.8 200.1 L 916.2 202.6 M 901.9 200.9 L 912.4 203.4 M 897.9 201.0 L 908.4 203.5" style="stroke-width:1.2"/>
<path class="w" d="M 916.0 152.0 L 918.6 152.8 L 919.1 154.5 L 917.2 156.2 L 917.5 157.4 L 920.1 158.6 L 920.4 160.4 L 918.2 161.8 L 918.5 162.8 L 921.0 164.5 L 921.1 166.2 L 918.9 167.1 L 918.9 168.1 L 921.2 170.4 L 921.2 172.0 L 918.9 172.2 L 918.8 173.2 L 921.0 175.9 L 920.9 177.5 L 918.2 177.2 L 918.1 178.2 L 920.1 181.1 L 919.8 182.6 L 917.2 181.9 L 916.9 182.8 L 918.8 186.0 L 918.2 187.2 L 915.6 186.0 L 915.2 186.8 L 916.8 190.2 L 916.1 191.4 L 913.5 189.6 L 913.1 190.2 L 914.2 193.9 L 913.5 194.9 L 911.0 192.6 L 910.5 193.1 L 911.4 196.9 L 910.4 197.6 L 908.1 195.0 L 907.6 195.4 L 908.1 199.0 L 907.0 199.5 L 905.0 196.6 L 904.2 196.9 L 904.5 200.5 L 903.2 200.8 L 901.5 197.5 L 900.8 197.6 L 900.6 201.0 L 899.4 201.0 L 897.9 197.6 L 897.1 197.5 L 896.5 200.8 L 895.2 200.5 L 894.1 196.9 L 893.4 196.8 L 892.4 199.6 L 891.1 199.1 L 890.2 195.5 L 889.5 195.1 L 888.2 197.8 L 887.0 197.0 L 886.5 193.4 L 885.8 192.9 L 884.2 195.1 L 883.0 194.1 L 882.9 190.5 L 882.1 189.9 L 880.4 191.6 L 879.2 190.5 L 879.4 187.1 L 878.8 186.2 L 876.6 187.6 L 875.6 186.2 L 876.2 183.0 L 875.6 182.1 L 873.4 183.0 L 872.4 181.5 L 873.4 178.5 L 872.9 177.6 L 870.4 177.9 L 869.6 176.2 L 870.9 173.6 L 870.4 172.6 L 867.9 172.5 L 867.2 170.8 L 868.9 168.5 L 868.5 167.5 L 865.9 166.8 L 865.4 165.0 L 867.2 163.2 L 867.0 162.1 L 864.4 160.9 L 864.1 159.1 L 866.2 157.8 L 866.0 156.8 L 863.5 155.0 L 863.4 153.2 L 865.6 152.4 L 865.6 151.4 L 863.2 149.1 L 863.2 147.5 L 865.6 147.2 L 865.8 146.2 L 863.5 143.6 L 863.6 142.0 L 866.2 142.2 L 866.4 141.2 L 864.4 138.4 L 864.8 136.9 L 867.2 137.6 L 867.6 136.8 L 865.8 133.5 L 866.2 132.2 L 868.9 133.5 L 869.2 132.8 L 867.8 129.2 L 868.4 128.1 L 871.0 129.9 L 871.4 129.2 L 870.2 125.6 L 871.0 124.6 L 873.5 126.9 L 874.0 126.4 L 873.1 122.6 L 874.1 121.9 L 876.4 124.5 L 876.9 124.1 L 876.4 120.5 L 877.5 120.0 L 879.5 122.9 L 880.2 122.6 L 880.0 119.0 L 881.2 118.8 L 883.0 122.0 L 883.8 121.9 L 883.9 118.5 L 885.1 118.5 L 886.6 121.9 L 887.4 122.0 L 888.0 118.8 L 889.2 119.0 L 890.4 122.6 L 891.1 122.8 L 892.1 119.9 L 893.4 120.4 L 894.2 124.0 L 895.0 124.4 L 896.2 121.8 L 897.5 122.5 L 898.0 126.1 L 898.8 126.6 L 900.2 124.4 L 901.5 125.4 L 901.6 129.0 L 902.4 129.6 L 904.1 127.9 L 905.2 129.0 L 905.1 132.4 L 905.8 133.2 L 907.9 131.9 L 908.9 133.2 L 908.2 136.5 L 908.9 137.4 L 911.1 136.5 L 912.1 138.0 L 911.1 141.0 L 911.6 141.9 L 914.1 141.6 L 914.9 143.2 L 913.6 145.9 L 914.1 146.9 L 916.6 147.0 L 917.2 148.8 L 915.6 151.0 Z" style="stroke-width:1.7"/>
<ellipse class="t" cx="881.0" cy="138.5" rx="4.8" ry="6.8" transform="rotate(-20 881.0 138.5)"/>
<path class="t" d="M 879.5 133.8 C 879.9 135.2 879.5 135.7 880.8 138.5 C 882.0 141.3 882.9 141.8 883.8 143.2"/>
<path class="t" d="M 882.0 132.9 C 882.4 134.4 882.3 135.5 883.2 137.9 C 884.2 140.2 884.6 139.9 885.1 140.8"/>
<ellipse class="t" cx="895.2" cy="136.2" rx="4.8" ry="6.8" transform="rotate(-20 895.2 136.2)"/>
<path class="t" d="M 893.8 131.5 C 894.1 132.9 893.7 133.4 895.0 136.2 C 896.3 139.1 897.1 139.6 898.0 141.0"/>
<path class="t" d="M 896.2 130.6 C 896.6 132.1 896.6 133.3 897.5 135.6 C 898.4 138.0 898.8 137.6 899.4 138.5"/>
<ellipse class="t" cx="909.0" cy="150.0" rx="4.8" ry="6.8" transform="rotate(-20 909.0 150.0)"/>
<path class="t" d="M 907.5 145.2 C 907.9 146.7 907.5 147.2 908.8 150.0 C 910.0 152.8 910.9 153.3 911.8 154.8"/>
<path class="t" d="M 910.0 144.4 C 910.4 145.9 910.3 147.0 911.2 149.4 C 912.2 151.7 912.6 151.4 913.1 152.2"/>
<ellipse class="t" cx="915.0" cy="170.0" rx="4.8" ry="6.8" transform="rotate(-20 915.0 170.0)"/>
<path class="t" d="M 913.5 165.2 C 913.9 166.7 913.5 167.2 914.8 170.0 C 916.0 172.8 916.9 173.3 917.8 174.8"/>
<path class="t" d="M 916.0 164.4 C 916.4 165.9 916.3 167.0 917.2 169.4 C 918.2 171.7 918.6 171.4 919.1 172.2"/>
<ellipse class="t" cx="908.8" cy="186.0" rx="4.8" ry="6.8" transform="rotate(-20 908.8 186.0)"/>
<path class="t" d="M 907.2 181.2 C 907.6 182.7 907.2 183.2 908.5 186.0 C 909.8 188.8 910.6 189.3 911.5 190.8"/>
<path class="t" d="M 909.8 180.4 C 910.1 181.9 910.1 183.0 911.0 185.4 C 911.9 187.7 912.3 187.4 912.9 188.2"/>
<ellipse class="t" cx="895.2" cy="187.5" rx="4.8" ry="6.8" transform="rotate(-20 895.2 187.5)"/>
<path class="t" d="M 893.8 182.8 C 894.1 184.2 893.7 184.7 895.0 187.5 C 896.3 190.3 897.1 190.8 898.0 192.2"/>
<path class="t" d="M 896.2 181.9 C 896.6 183.4 896.6 184.5 897.5 186.9 C 898.4 189.2 898.8 188.9 899.4 189.8"/>
<ellipse class="t" cx="881.2" cy="174.4" rx="4.8" ry="6.8" transform="rotate(-20 881.2 174.4)"/>
<path class="t" d="M 879.8 169.6 C 880.1 171.1 879.7 171.5 881.0 174.4 C 882.3 177.2 883.1 177.7 884.0 179.1"/>
<path class="t" d="M 882.2 168.8 C 882.6 170.2 882.6 171.4 883.5 173.8 C 884.4 176.1 884.8 175.8 885.4 176.6"/>
<ellipse class="t" cx="875.4" cy="154.4" rx="4.8" ry="6.8" transform="rotate(-20 875.4 154.4)"/>
<path class="t" d="M 873.9 149.6 C 874.2 151.1 873.9 151.5 875.1 154.4 C 876.4 157.2 877.2 157.7 878.1 159.1"/>
<path class="t" d="M 876.4 148.8 C 876.8 150.2 876.7 151.4 877.6 153.8 C 878.6 156.1 878.9 155.8 879.5 156.6"/>
<ellipse class="t" cx="888.8" cy="159.4" rx="2.4" ry="3.1" transform="rotate(-20 888.8 159.4)"/>
<ellipse class="t" cx="897.8" cy="156.2" rx="2.4" ry="3.1" transform="rotate(-20 897.8 156.2)"/>
<ellipse class="t" cx="901.2" cy="164.8" rx="2.4" ry="3.1" transform="rotate(-20 901.2 164.8)"/>
<ellipse class="t" cx="898.5" cy="170.2" rx="2.4" ry="3.1" transform="rotate(-20 898.5 170.2)"/>
<!-- valve cover 9 and gasket 10 -->
<path class="g" d="M 185.0 269.4 C 186.3 268.2 185.2 268.2 190.0 265.0 C 194.8 261.8 196.1 259.1 203.0 257.4 C 209.9 255.7 209.1 260.0 216.0 258.6 C 222.9 257.2 224.7 255.6 229.0 252.0 C 233.3 248.4 229.3 247.9 232.0 245.0 C 234.7 242.1 228.3 246.3 239.0 241.0 C 249.7 235.7 259.2 229.0 272.0 225.0 C 284.8 221.0 277.9 227.9 287.0 226.0 C 296.1 224.1 299.9 221.7 306.0 218.0 C 312.1 214.3 306.5 214.9 310.0 212.0 C 313.5 209.1 312.1 210.2 319.0 207.0 C 325.9 203.8 328.8 201.5 336.0 200.0 C 343.2 198.5 339.1 202.8 346.0 201.4 C 352.9 200.0 355.6 198.2 362.0 194.6 C 368.4 191.0 362.5 191.7 370.0 188.0 C 377.5 184.3 382.5 182.7 390.0 180.6 C 397.5 178.5 392.7 179.1 398.0 180.0 C 403.3 180.9 405.5 181.6 410.0 184.0 C 414.5 186.4 413.0 185.5 415.0 189.0 C 417.0 192.5 416.8 187.9 417.6 197.0 C 418.4 206.1 418.4 213.1 418.0 223.0 C 417.6 232.9 417.3 228.9 416.0 234.0 C 414.7 239.1 415.1 238.5 413.0 242.0 C 410.9 245.5 411.5 244.9 408.0 247.0 C 404.5 249.1 402.1 249.2 400.0 250.0"/>
<path class="g" d="M 400.0 250.0 L 230.0 323.4"/>
<path class="g" d="M 230.0 323.4 C 228.4 323.8 227.5 324.5 224.0 324.8 C 220.5 325.1 222.3 325.7 217.0 324.4 C 211.7 323.1 210.7 323.8 204.0 320.0 C 197.3 316.2 197.3 316.1 192.0 310.0 C 186.7 303.9 187.0 303.7 184.0 297.0 C 181.0 290.3 181.3 291.1 180.8 285.0 C 180.3 278.9 180.9 278.2 182.0 274.0 C 183.1 269.8 184.2 270.6 185.0 269.4"/>
<path class="t" d="M 190.0 266.0 C 189.5 268.9 188.0 270.9 188.0 277.0 C 188.0 283.1 187.9 282.1 190.0 289.0 C 192.1 295.9 191.5 296.6 196.0 303.0 C 200.5 309.4 201.1 309.5 207.0 313.0 C 212.9 316.5 215.1 315.2 218.0 316.0"/>
<path class="t" d="M 218.0 316.0 L 410.0 233.0"/>
<path class="t" d="M 417.0 225.0 C 416.2 226.3 415.9 227.9 414.0 230.0 C 412.1 232.1 411.1 232.2 410.0 233.0"/>
<ellipse class="t" cx="235.6" cy="283.4" rx="8.6" ry="6.4" transform="rotate(32 235.6 283.4)"/>
<ellipse class="t" cx="287.0" cy="261.0" rx="8.6" ry="6.4" transform="rotate(32 287.0 261.0)"/>
<ellipse class="t" cx="337.6" cy="240.0" rx="8.6" ry="6.4" transform="rotate(32 337.6 240.0)"/>
<ellipse class="t" cx="337.6" cy="240.0" rx="8.6" ry="6.4" transform="rotate(32 337.6 240.0)"/>
<ellipse class="t" cx="385.6" cy="216.6" rx="8.6" ry="6.4" transform="rotate(32 385.6 216.6)"/>
<path class="t" d="M 198.0 294.0 L 221.0 284.6 M 204.4 298.6 L 223.0 291.0 M 206.0 304.0 L 228.0 295.0 M 247.0 272.0 L 272.0 262.0 M 247.0 279.0 L 274.0 268.0 M 250.0 284.6 L 279.6 272.0 M 295.6 250.0 L 323.0 238.6 M 298.0 256.6 L 325.0 245.0 M 300.0 262.6 L 329.0 250.0"/>
<path class="t" d="M 344.0 228.6 L 370.0 217.4 M 347.0 234.6 L 374.0 223.4 M 351.0 239.4 L 379.6 226.6 M 392.0 207.0 L 412.0 198.0 M 396.0 213.0 L 411.0 206.6 M 398.0 218.6 L 410.0 213.0"/>
<path class="g" d="M 270.0 391.2 C 268.4 391.8 267.7 392.6 264.0 393.6 C 260.3 394.6 261.3 395.4 256.0 395.0 C 250.7 394.6 250.4 394.9 244.0 392.0 C 237.6 389.1 237.6 389.6 232.0 384.0 C 226.4 378.4 226.2 378.2 223.0 371.0 C 219.8 363.8 220.3 362.9 220.0 357.0 C 219.7 351.1 220.9 352.5 222.0 349.0 C 223.1 345.5 221.9 346.4 224.0 344.0 C 226.1 341.6 228.4 341.1 230.0 340.0"/>
<path class="g" d="M 230.0 340.0 L 258.0 329.0 Q 266.0 330.0 272.0 324.0 L 313.0 306.0 Q 322.0 308.0 328.0 300.0 L 366.0 283.4"/>
<path class="g" d="M 366.0 283.4 C 368.1 283.8 370.3 285.4 374.0 285.0 C 377.7 284.6 377.8 284.2 380.0 282.0 C 382.2 279.8 381.8 278.0 382.4 276.6"/>
<path class="g" d="M 382.4 276.6 L 400.0 270.6"/>
<path class="g" d="M 400.0 270.6 C 402.7 270.6 404.1 269.2 410.0 270.6 C 415.9 272.0 416.7 271.6 422.0 276.0 C 427.3 280.4 425.5 280.3 430.0 287.0 C 434.5 293.7 435.8 294.6 439.0 301.0 C 442.2 307.4 441.7 306.2 442.0 311.0 C 442.3 315.8 441.6 315.8 440.0 319.0 C 438.4 322.2 437.1 321.9 436.0 323.0"/>
<path class="g" d="M 436.0 323.0 L 402.0 336.0 Q 395.0 330.0 388.0 340.0 L 354.0 356.0 Q 347.0 349.0 339.0 359.0 L 303.0 377.0 Q 295.0 371.0 287.0 383.0 L 270.0 390.8"/>
<path class="t" d="M 270.0 387.0 C 268.4 387.2 267.2 387.7 264.0 387.8 C 260.8 387.9 262.3 388.1 258.0 387.4 C 253.7 386.7 253.3 387.2 248.0 385.0 C 242.7 382.8 242.5 383.3 238.0 379.0 C 233.5 374.7 233.6 374.9 231.0 369.0 C 228.4 363.1 228.7 362.3 228.4 357.0 C 228.1 351.7 229.0 352.2 230.0 349.0 C 231.0 345.8 231.5 346.1 232.0 345.0"/>
<path class="t" d="M 232.0 345.0 L 258.0 334.0 Q 268.0 335.4 274.0 329.0 L 313.0 311.4 Q 323.0 314.0 330.0 303.0 L 365.0 290.0"/>
<path class="t" d="M 365.0 290.0 C 367.4 290.5 369.7 292.3 374.0 292.0 C 378.3 291.7 377.8 291.9 381.0 289.0 C 384.2 286.1 384.7 283.1 386.0 281.0"/>
<path class="t" d="M 386.0 281.0 L 400.0 275.4"/>
<path class="t" d="M 400.0 275.4 C 402.7 275.4 404.9 274.2 410.0 275.4 C 415.1 276.6 414.2 275.8 419.0 280.0 C 423.8 284.2 423.7 284.6 428.0 291.0 C 432.3 297.4 432.4 298.1 435.0 304.0 C 437.6 309.9 437.6 308.9 437.6 313.0 C 437.6 317.1 435.7 317.7 435.0 319.4"/>
<path class="t" d="M 435.0 319.4 L 402.0 332.0 Q 395.0 327.4 386.0 337.0 L 354.0 352.0 Q 347.0 346.0 337.0 357.0 L 302.0 374.0 Q 294.0 368.0 285.0 380.0 L 270.0 386.8"/>
<!-- part 15 pickup tube -->
<ellipse class="g" cx="794.4" cy="357.6" rx="14.8" ry="15.2" transform="rotate(0 794.4 357.6)"/>
<ellipse class="t" cx="793.6" cy="356.4" rx="9.6" ry="10.0" transform="rotate(0 793.6 356.4)"/>
<path class="t" d="M 800.0 350.0 C 798.5 351.8 796.7 352.1 795.0 356.0 C 793.3 359.9 793.8 360.0 794.4 363.0 C 795.0 366.0 796.2 365.1 797.0 366.0"/>
<path class="g" d="M 800.0 343.2 C 803.0 344.9 805.5 344.6 810.0 349.0 C 814.5 353.4 814.1 352.3 815.0 358.0 C 815.9 363.7 815.4 363.3 813.0 368.0 C 810.6 372.7 811.5 371.9 807.0 373.6 C 802.5 375.3 800.7 373.6 798.0 373.6"/>
<path class="g" d="M 815.0 359.0 C 820.6 361.7 825.6 364.5 836.0 369.0 C 846.4 373.5 845.5 373.6 854.0 376.0 C 862.5 378.4 860.5 378.0 868.0 378.0 C 875.5 378.0 876.1 377.3 882.0 376.0 C 887.9 374.7 887.9 373.8 890.0 373.0"/>
<path class="g" d="M 809.0 374.0 C 814.6 377.2 820.1 380.9 830.0 386.0 C 839.9 391.1 837.5 390.6 846.0 393.0 C 854.5 395.4 853.5 394.7 862.0 395.0 C 870.5 395.3 869.5 395.3 878.0 394.0 C 886.5 392.7 888.9 391.9 894.0 390.0 C 899.1 388.1 896.2 387.8 897.0 387.0"/>
<path class="t" d="M 847.0 375.0 C 847.6 376.8 849.3 377.1 849.0 381.0 C 848.7 384.9 848.1 385.3 846.0 388.0 C 843.9 390.7 843.2 389.4 842.0 390.0"/>
<path class="g" d="M 887.0 372.4 L 907.0 367.6 L 910.0 368.0 Q 915.6 376.0 915.6 385.0 L 898.0 389.0 Q 898.0 378.0 892.0 373.6 Z" style="stroke-width:1.9"/>
<path class="t" d="M 893.0 371.6 C 894.5 373.5 896.0 373.1 898.0 378.0 C 900.0 382.9 899.1 385.0 899.6 388.0"/>
<path class="g" d="M 913.0 367.0 C 917.5 366.1 921.7 364.0 928.0 364.0 C 934.3 364.0 931.1 364.0 934.0 367.0 C 936.9 370.0 937.3 370.1 937.6 374.0 C 937.9 377.9 937.9 377.3 935.0 380.0 C 932.1 382.7 933.7 381.5 928.0 383.0 C 922.3 384.5 919.6 384.4 916.0 385.0"/>
<path class="t" d="M 904.0 380.4 L 914.0 378.6 M 922.0 380.0 L 930.0 378.4"/>
<path class="g" d="M 898.0 389.0 L 899.0 393.0 L 917.0 391.0 L 918.0 387.0" style="stroke-width:1.8"/>
<path class="g" d="M 905.0 394.0 C 906.5 398.2 906.1 399.6 910.0 408.0 C 913.9 416.4 913.8 414.2 918.0 422.0 C 922.2 429.8 920.4 428.3 924.0 434.0 C 927.6 439.7 926.1 438.1 930.0 441.0 C 933.9 443.9 933.1 443.9 937.0 443.6 C 940.9 443.3 940.4 443.2 943.0 440.0 C 945.6 436.8 946.5 438.4 945.6 433.0 C 944.7 427.6 944.1 428.3 940.0 422.0 C 935.9 415.7 936.5 419.2 932.0 412.0 C 927.5 404.8 928.0 405.5 925.0 398.0 C 922.0 390.5 922.9 390.3 922.0 387.0"/>
<path class="t" d="M 919.6 418.0 C 921.5 416.8 922.0 415.5 926.0 414.0 C 930.0 412.5 930.9 413.3 933.0 413.0"/>
<path class="t" d="M 923.0 426.0 C 925.1 424.5 925.5 422.9 930.0 421.0 C 934.5 419.1 935.6 420.0 938.0 419.6"/>
<path class="t" d="M 927.0 433.0 C 929.1 431.8 929.5 430.5 934.0 429.0 C 938.5 427.5 939.6 428.3 942.0 428.0"/>
<ellipse class="t" cx="939.0" cy="438.4" rx="6.0" ry="3.4" transform="rotate(-25 939.0 438.4)"/>
<path class="g" d="M 870.0 395.0 L 863.0 403.0 L 864.0 438.0 L 873.0 453.0 L 876.0 468.0 L 875.6 473.0 L 866.0 468.0 L 861.0 471.0 L 862.0 474.0 L 876.0 478.0 L 882.0 477.0 L 887.0 474.0"/>
<path class="g" d="M 877.0 395.0 L 867.6 403.6 L 868.4 437.0 L 878.4 453.0 L 881.0 468.0 L 881.6 476.0" style="stroke-width:1.9"/>
<path class="t" d="M 872.4 405.0 L 874.0 433.0 L 879.0 438.0 L 888.0 464.0 M 874.0 433.0 L 877.0 432.4"/>
<path class="g" d="M 886.0 394.0 L 877.0 405.0 L 878.4 430.0 L 894.0 462.0" style="stroke-width:1.9"/>
<path class="g" d="M 898.4 394.0 L 895.6 426.0 L 896.4 448.0 L 897.6 461.6 L 894.0 462.4"/>
<circle class="t" cx="883.4" cy="405.6" r="2.8"/>
<path class="g" d="M 897.6 449.0 L 904.0 447.0 L 928.0 452.4 L 929.6 457.0 L 928.0 463.0 L 900.0 475.6 L 894.0 475.6 L 887.0 472.4 L 887.6 467.0 L 894.0 462.4"/>
<path class="t" d="M 900.0 457.0 L 906.0 453.6 L 925.0 457.6 L 900.0 469.0 L 889.0 467.6"/>
<!-- oil pan 16 -->
<path class="g" d="M 489.0 619.0 Q 489.0 615.6 491.6 614.0 L 533.0 591.0 L 536.0 584.0 L 555.0 578.0 L 562.0 579.0 L 646.0 539.0 L 658.0 536.0 L 668.0 529.0 L 680.0 524.4 L 688.0 525.6 L 778.0 557.0 Q 782.4 559.6 782.0 567.0 L 778.0 569.0"/>
<path class="g" d="M 489.0 619.0 L 490.0 625.6 L 496.0 630.0 L 512.0 648.0 L 580.0 669.0 L 584.0 668.4 L 614.0 657.0"/>
<path class="g" d="M 490.0 622.4 L 581.0 652.0 Q 584.4 652.6 588.0 651.2 L 680.0 608.0" style="stroke-width:1.9"/>
<path class="g" d="M 640.0 625.6 L 734.4 580.0 L 747.2 580.0 L 782.1 562.4" style="stroke-width:1.9"/>
<path class="g" d="M 496.0 630.0 L 580.0 658.0 L 586.0 657.6 L 670.0 618.0" style="stroke-width:1.7"/>
<path class="g" d="M 640.0 631.2 L 734.4 584.5 L 748.8 584.0 L 779.2 567.2" style="stroke-width:1.7"/>
<path class="t" d="M 580.0 658.0 L 580.0 669.0"/>
<path class="t" d="M 504.0 617.0 L 507.0 613.0 L 540.0 595.0 L 544.0 588.0 L 557.0 583.6 L 564.0 584.4 L 648.0 545.0 L 660.0 541.6 L 670.0 535.0 L 680.0 531.0 L 688.0 532.0 L 740.0 550.0 Q 749.0 553.0 747.0 559.0 Q 745.0 563.0 738.0 563.0 L 733.0 569.0 Q 728.0 574.0 723.0 572.4 L 718.0 573.0"/>
<path class="t" d="M 504.0 617.0 L 530.0 626.4 M 504.0 617.0 L 580.0 645.0 L 585.0 644.4 L 680.0 599.0"/>
<path class="t" d="M 543.6 597.6 L 547.6 594.6 L 585.0 625.6 L 580.0 628.4 L 543.6 597.6 M 544.0 597.6 L 544.4 619.0 M 561.0 584.4 L 565.0 583.6 L 590.0 623.0 L 585.0 625.6 L 561.0 584.4 M 561.0 584.4 L 561.6 606.0"/>
<path class="t" d="M 530.0 627.0 L 545.0 619.0 L 579.0 629.0 M 530.0 627.0 L 562.0 638.0 L 580.0 629.0 M 562.0 638.0 L 592.0 624.0 L 624.0 624.0"/>
<path class="g" d="M 777.6 568.0 L 777.9 608.8 L 771.2 614.9 L 745.6 613.6 L 742.4 616.0 L 720.0 607.2 L 719.2 594.4"/>
<path class="t" d="M 767.2 591.2 L 777.6 569.6 M 767.2 591.2 L 768.0 614.4 M 751.2 593.6 L 751.7 612.8 M 727.2 596.8 L 727.7 608.0 M 720.0 596.0 L 767.2 591.2"/>
<path class="t" d="M 696.8 603.2 L 696.8 623.2 Q 699.2 626.4 701.6 623.2 L 702.1 601.6 M 708.0 598.4 L 708.0 616.8 Q 710.4 619.7 712.8 616.5 L 713.3 596.8"/>
<path class="g" d="M 679.0 614.0 L 678.0 633.0 L 674.0 639.0 L 673.6 662.0 L 677.0 667.0 L 730.0 676.4 L 740.0 676.0 L 759.0 665.0 L 761.0 658.0 L 760.0 650.0 L 752.0 636.0 L 746.0 619.0 L 743.0 615.0"/>
<path class="t" d="M 745.0 618.0 L 727.0 633.0 L 725.0 643.0 L 730.0 676.0 M 686.0 627.0 L 718.0 632.4 M 680.0 639.0 L 718.0 645.0"/>
<path class="g" d="M 670.0 618.0 L 669.6 631.0 L 665.0 638.0 L 665.0 659.0 L 673.6 661.0" style="stroke-width:1.8"/>
<path class="g" d="M 614.0 657.0 L 656.0 664.4 L 662.0 663.6 L 665.0 659.0"/>
<path class="t" d="M 618.0 655.0 L 665.0 642.0"/>
<path class="t" d="M 666.0 638.0 L 669.0 632.0 L 669.0 618.0"/>
<path class="t" d="M 580.9 604.4 L 647.7 573.5 M 670.5 563.2 L 682.6 556.6 L 707.2 562.0 L 706.6 580.1"/>
<path class="g" d="M 647.7 573.1 Q 648.3 568.1 654.9 561.1 Q 662.1 557.2 668.1 560.2 Q 671.7 564.4 669.3 570.5 Q 664.5 574.1 656.1 574.1 Q 650.1 573.8 647.7 573.1 Z" style="stroke-width:1.8"/>
<path class="t" d="M 581.5 605.0 L 614.6 607.8 L 697.0 562.6 Q 703.0 560.8 707.2 562.0"/>
<path class="t" d="M 582.1 609.0 L 615.8 613.1 L 706.0 564.2"/>
<path class="t" d="M 682.6 596.1 L 727.1 574.4"/>
<path class="t" d="M 615.6 612.9 L 615.6 623.7 M 581.5 605.0 L 582.1 609.0"/>
<path class="t" d="M 679.0 598.1 L 719.9 572.3 Q 723.5 570.7 726.9 573.8"/>
<!-- pan gasket 17 -->
<path class="g" d="M 472.0 517.0 L 654.0 431.0 Q 660.0 429.0 666.0 430.0 L 744.0 461.0 L 760.0 468.0 L 747.0 476.0 L 566.0 557.6 Q 561.0 559.0 557.0 557.6 L 472.0 532.4 Q 468.0 531.0 468.4 528.0 L 468.4 521.0 Q 469.0 518.0 472.0 517.0"/>
<path class="g" d="M 469.0 524.4 L 560.0 552.4 Q 563.0 553.0 566.0 552.4 L 745.0 472.6" style="stroke-width:1.9"/>
<path class="t" d="M 479.0 519.0 L 654.0 436.0 Q 660.0 434.4 666.0 435.6 L 740.0 464.0 Q 746.0 466.8 738.0 469.6 L 563.0 548.0 Q 561.0 548.4 559.0 547.6 L 480.0 521.6 Q 477.6 520.4 479.0 519.0"/>
<path class="t" d="M 486.0 521.2 L 655.0 441.6 Q 660.0 440.0 666.0 441.0 L 728.0 462.4 Q 734.4 465.2 729.0 468.0 L 564.0 545.6"/>
<path class="t" d="M 486.0 521.2 L 560.0 545.6"/>
<path class="t" d="M 744.0 461.0 C 745.0 463.1 747.1 464.5 747.4 468.0 C 747.7 471.5 745.7 471.2 745.0 472.6"/>
<!-- part 19 intake manifold -->
<path class="g" d="M 70.0 106.4 L 96.0 104.0 L 98.0 97.0 L 105.0 94.0 L 105.0 85.0 L 108.0 80.0 L 112.0 80.0 L 117.0 86.0 L 121.0 85.0 L 120.0 77.0 L 126.0 75.0 L 131.0 69.0 L 138.0 68.0 L 144.0 72.0 L 151.0 70.0 L 154.0 67.6 L 159.0 67.0 L 158.0 37.0 L 166.0 43.0 L 178.0 44.0 L 181.0 41.0 L 187.0 43.0 L 189.0 46.0 L 197.0 51.0"/>
<path class="g" d="M 197.0 50.4 L 204.0 30.0 L 209.0 29.0 L 221.0 32.0 L 234.0 35.6 L 251.0 28.4 L 262.0 26.0 L 270.0 34.0 L 273.0 43.0 L 280.0 52.0 L 284.0 59.0 L 284.4 64.0 L 282.0 69.6 L 281.0 71.6 L 283.6 94.0 L 278.4 98.4 L 300.0 130.0 L 302.4 129.2 L 309.6 129.6 L 312.4 134.0 L 311.0 140.0 L 316.0 146.0 L 315.6 151.0"/>
<path class="g" d="M 315.6 151.0 L 144.0 222.4 L 138.0 222.4"/>
<path class="g" d="M 71.0 106.4 L 70.4 145.6 L 65.0 145.6 L 55.0 150.4 L 58.0 159.6 L 51.6 164.0 L 53.6 169.0 L 61.6 168.0 L 63.6 174.0 L 61.6 180.4 L 64.0 182.0 L 77.0 180.0 L 88.0 196.0 L 96.0 194.0 L 138.0 222.4 L 144.0 222.4"/>
<circle class="t" cx="155.0" cy="113.0" r="7.0"/>
<circle class="t" cx="191.0" cy="97.6" r="7.0"/>
<circle class="t" cx="240.0" cy="76.6" r="7.0"/>
<path class="t" d="M 73.0 106.4 L 94.0 116.0 L 99.0 121.0 L 100.0 137.0 L 106.0 152.0 L 109.0 160.0 L 116.0 176.0"/>
<path class="t" d="M 92.0 106.4 L 106.0 115.6 L 104.0 132.0 L 107.0 137.0 L 134.0 137.4"/>
<path class="t" d="M 106.0 90.0 L 117.0 86.0 M 102.0 109.0 L 120.0 101.6 M 122.0 95.0 L 131.0 94.4 L 140.0 86.0 L 178.0 73.6 M 105.0 118.0 L 139.0 107.0 M 108.0 130.0 L 136.0 119.0"/>
<path class="t" d="M 120.0 78.0 L 122.0 95.0 M 121.0 77.0 L 132.0 78.0 L 132.4 86.0 L 128.0 89.0 L 121.6 89.0"/>
<path class="t" d="M 136.0 101.0 L 206.0 72.4 L 211.0 77.0 L 213.0 85.0 M 136.0 101.0 L 144.0 108.0"/>
<path class="t" d="M 137.0 114.0 L 146.0 111.0 L 147.0 124.0 L 144.0 127.0 L 136.0 122.0 Z"/>
<path class="t" d="M 106.0 118.0 L 116.0 135.0 M 117.0 118.0 L 133.0 131.0 M 163.0 108.0 L 180.0 101.0 M 199.0 93.0 L 229.0 81.0"/>
<path class="t" d="M 154.0 84.0 L 168.0 100.0 M 168.0 80.0 L 176.0 98.0 M 178.0 77.0 L 189.0 87.0 M 192.0 68.0 L 199.0 88.0 M 188.0 50.0 L 189.0 70.0 M 205.0 59.0 L 206.0 72.4 M 217.0 68.0 L 217.6 87.0 M 224.0 67.0 L 226.0 86.0"/>
<path class="t" d="M 167.0 64.0 L 176.0 60.0 L 178.0 52.0 M 148.0 72.4 L 156.0 78.0 M 160.0 68.0 L 164.0 75.0 M 106.0 95.0 L 110.0 103.0"/>
<path class="t" d="M 140.0 138.0 L 149.0 129.0 L 172.0 122.0 L 191.0 107.0 L 220.0 104.0 L 236.0 93.0 L 244.0 87.0"/>
<path class="t" d="M 142.0 140.0 L 140.0 176.0 M 155.0 126.0 L 156.0 164.0 M 170.0 126.0 L 170.0 151.0 L 178.0 153.0 L 187.0 150.0 L 187.6 114.0 M 173.0 129.0 L 183.0 125.0 M 173.0 143.0 L 183.0 139.0"/>
<path class="t" d="M 143.0 140.0 L 155.0 162.0 L 160.0 167.0 L 176.0 168.0 L 187.0 164.0 L 187.6 150.0 M 166.0 156.0 L 160.0 166.0 M 178.0 154.0 L 179.0 171.0"/>
<path class="t" d="M 188.0 133.0 L 218.0 178.0"/>
<path class="t" d="M 200.0 51.0 L 221.0 33.0 M 200.0 50.4 L 235.0 39.0 M 207.0 56.4 L 241.0 43.6 M 221.0 62.0 L 257.0 48.0 M 221.0 33.0 L 226.0 46.0 L 242.0 68.0 M 248.0 33.0 L 255.0 41.0 L 256.0 47.0 M 254.0 26.0 L 255.0 40.0"/>
<path class="t" d="M 249.0 53.0 L 248.0 70.0 M 249.0 70.0 L 264.0 64.4 M 257.0 48.0 L 276.0 68.0 M 265.0 42.0 L 271.0 51.0 L 276.0 52.0 M 189.0 46.4 L 204.0 60.0 L 230.0 72.4"/>
<path class="t" d="M 236.0 93.0 L 244.0 87.0 L 271.0 84.4 L 280.0 71.0 M 278.0 84.0 L 273.0 92.0 L 244.0 97.0 M 279.0 83.0 L 278.0 95.0"/>
<path class="t" d="M 230.0 102.0 L 231.0 112.0 L 228.0 136.0 L 223.0 158.0 L 213.0 145.0 L 193.0 140.0 L 197.0 112.0 M 236.0 93.0 L 234.0 110.0 L 229.0 112.0"/>
<path class="t" d="M 241.0 95.0 L 242.0 128.0 L 251.0 128.0 L 255.0 98.0 M 273.0 93.0 L 272.0 128.0 L 250.0 131.0 M 258.0 105.0 L 269.0 103.0 M 255.0 108.0 L 266.0 114.0 L 278.0 108.0"/>
<path class="t" d="M 262.0 129.0 L 269.0 142.0 M 273.0 120.0 L 284.0 140.0 L 293.0 155.0 M 259.0 148.0 L 289.0 140.0 M 262.0 152.0 L 270.0 153.0 L 284.0 143.0 M 234.0 112.0 L 252.0 138.0 L 260.0 158.0"/>
<path class="t" d="M 228.0 136.0 L 245.0 156.0 L 232.0 159.0 L 234.0 166.0 L 224.0 176.0 M 238.0 164.0 L 249.0 164.0 M 245.0 158.0 L 249.0 167.0"/>
<path class="t" d="M 300.0 143.0 L 301.0 147.0 M 299.0 138.0 L 310.0 138.4 L 312.4 134.0 M 300.0 130.0 L 299.0 138.0"/>
<path class="t" d="M 75.0 120.0 L 78.0 117.0 L 82.0 118.0 L 84.0 124.0 L 82.0 128.0 L 77.0 128.0 Z"/>
<ellipse class="t" cx="86.4" cy="151.6" rx="11.0" ry="17.6" transform="rotate(-8 86.4 151.6)"/>
<path class="t" d="M 85.0 136.0 L 83.0 150.0 L 87.0 160.0 L 94.0 164.0 M 92.4 139.0 L 97.0 152.0"/>
<path class="t" d="M 106.0 152.0 L 112.0 166.0 L 115.0 174.0 L 111.0 180.0 L 104.0 180.0 L 94.0 174.0 L 91.0 171.0 L 80.0 169.0 L 76.0 166.0"/>
<path class="t" d="M 104.0 120.0 L 109.0 138.0 L 116.0 160.0 L 120.0 172.0 L 115.0 179.0"/>
<path class="t" d="M 62.0 149.0 L 72.0 158.0 M 65.0 146.0 L 71.0 153.0 M 53.6 164.0 L 65.0 159.0 L 68.0 163.6 L 61.6 168.0 M 64.0 173.6 L 77.0 172.4 L 85.0 186.0"/>
<path class="t" d="M 90.0 194.0 L 95.0 185.0 L 124.0 186.4 L 139.0 176.0 L 142.0 142.0"/>
<path class="t" d="M 160.0 168.0 L 175.0 194.0 M 173.0 182.0 L 198.0 173.0 L 205.0 185.0 L 205.0 189.0 M 172.0 187.0 L 190.0 191.0 L 205.0 185.0"/>
<path class="t" d="M 209.0 182.0 L 233.0 171.0 L 235.0 165.0 L 232.0 160.0 L 240.0 158.0 M 228.0 136.0 L 240.0 152.0 M 172.0 205.0 L 240.0 179.0"/>
<path class="t" d="M 117.0 189.0 L 148.0 215.6 M 132.0 184.0 L 155.0 214.0 L 162.0 214.4 M 144.0 176.0 L 168.0 209.6 M 136.0 179.0 L 140.0 192.0 M 146.0 196.0 L 151.0 194.0 M 150.0 204.4 L 160.0 204.4"/>
<path class="t" d="M 240.0 179.0 L 308.0 145.6 M 232.0 158.0 L 245.0 156.0 M 233.0 167.0 L 232.0 160.0"/>
<!-- part 20 highlighted -->
<path class="gr" d="M 341.0 143.0 C 341.0 139.6 346.2 134.8 347.0 131.0 C 347.8 127.2 345.7 120.8 346.0 118.0 C 346.3 115.2 347.8 113.5 349.0 112.6 C 350.2 111.7 352.5 111.3 354.0 112.0 C 355.5 112.7 356.6 114.6 359.0 117.0 C 361.4 119.4 366.2 127.2 370.0 128.0 C 373.8 128.8 381.2 124.7 384.0 122.6 C 386.8 120.5 388.2 117.8 388.6 114.0 C 389.0 110.2 386.4 100.1 386.6 97.0 C 386.8 93.9 388.7 93.9 390.0 93.4 C 391.3 92.9 392.9 92.0 395.0 93.4 C 397.1 94.8 401.4 101.3 404.0 103.0 C 406.6 104.7 410.5 105.8 412.0 105.0 C 413.5 104.2 411.3 100.0 414.0 97.4 C 416.7 94.9 427.5 91.1 430.0 88.0 C 432.5 84.9 430.0 79.2 430.6 77.0 C 431.2 74.8 432.6 73.9 434.0 73.4 C 435.4 72.9 438.1 72.4 440.0 73.4 C 441.9 74.4 444.4 77.3 447.0 80.0 C 449.6 82.7 453.1 90.5 457.0 91.4 C 460.9 92.3 470.1 88.0 473.0 86.0 C 475.9 84.0 474.9 79.7 476.0 78.0 C 477.1 76.3 479.8 77.2 480.0 75.0 C 480.2 72.8 477.5 65.7 477.4 63.0 C 477.3 60.3 478.3 58.0 479.4 57.0 C 480.5 56.0 482.6 55.1 484.6 56.0 C 486.6 56.9 489.0 60.9 493.0 63.0 C 497.0 65.1 506.9 69.4 511.0 70.0 C 515.0 70.6 518.3 66.8 520.0 67.0 C 521.7 67.2 523.0 69.3 522.6 71.0 C 522.2 72.7 518.2 74.4 517.4 78.0 C 516.6 81.6 517.8 91.2 517.4 95.0 C 517.0 98.8 517.8 101.0 515.0 103.0 C 512.2 105.0 504.1 108.3 499.0 108.6 C 493.9 108.9 484.9 104.6 481.0 105.0 C 477.1 105.4 474.6 108.8 473.0 111.0 C 471.4 113.2 472.9 117.9 470.6 120.0 C 468.4 122.1 460.6 124.2 458.0 125.0 C 455.4 125.8 454.8 125.9 453.0 125.4 C 451.2 125.0 449.0 122.1 446.0 122.0 C 443.0 121.9 436.3 123.3 433.0 125.0 C 429.7 126.7 425.6 130.8 424.0 133.0 C 422.4 135.2 423.2 138.3 422.0 140.0 C 420.8 141.7 417.6 143.8 416.0 144.4 C 414.4 145.0 412.9 144.6 411.0 144.0 C 409.1 143.4 405.7 140.9 403.0 140.6 C 400.3 140.3 396.1 141.0 393.0 142.0 C 389.9 143.0 383.9 145.1 382.0 147.0 C 380.1 148.9 382.2 152.5 380.6 155.0 C 379.0 157.5 373.2 162.2 371.0 163.4 C 368.8 164.6 369.6 164.4 366.0 163.0 C 362.4 161.6 350.8 157.0 347.0 154.0 C 343.2 151.0 341.0 146.4 341.0 143.0 Z"/>
<path class="gl" d="M 350.0 126.0 L 369.0 162.0 M 372.0 129.0 L 379.4 146.0 M 388.0 113.0 L 411.0 143.0 M 407.0 105.0 L 422.0 130.0 M 416.0 100.6 L 429.0 124.0 M 457.0 92.0 L 469.0 114.0 M 489.0 62.0 L 512.0 101.0 M 482.0 85.0 L 499.0 107.0 M 447.0 113.0 L 454.6 122.0 M 515.0 102.0 L 516.0 105.0"/>
<path class="gl" d="M 430.6 95.0 L 428.0 103.0 L 433.0 111.0 L 444.0 114.6 L 454.0 114.6 M 480.0 75.0 L 475.0 80.0 L 476.0 93.0 L 483.0 97.4 L 493.0 98.0 M 388.6 114.0 L 384.0 120.0 L 386.0 131.0 L 393.0 134.6 L 406.0 135.0"/>
<circle class="gl" cx="354.0" cy="145.6" r="2.2"/>
<circle class="gl" cx="394.6" cy="125.6" r="2.2"/>
<circle class="gl" cx="437.0" cy="104.6" r="2.2"/>
<circle class="gl" cx="483.0" cy="87.4" r="2.2"/>
<circle class="gl" cx="508.4" cy="76.6" r="2.2"/>
<!-- labels and arrows -->
<text class="lbl" transform="translate(56.00 56.00) scale(1.123 1)" style="font-size:34.5px;fill:#999">19</text>
<text class="lbl" transform="translate(538.70 179.60) scale(1.008 1)" style="font-size:34.5px;fill:#999">3</text>
<text class="lbl" transform="translate(663.70 147.00) scale(1.060 1)" style="font-size:34.5px;fill:#999">4</text>
<text class="lbl" transform="translate(798.70 118.80) scale(1.060 1)" style="font-size:34.5px;fill:#999">6</text>
<text class="lbl" transform="translate(927.45 105.25) scale(1.034 1)" style="font-size:34.5px;fill:#999">8</text>
<text class="lbl" transform="translate(850.00 343.60) scale(1.071 1)" style="font-size:34.5px;fill:#999">15</text>
<text class="lbl" transform="translate(99.50 374.50) scale(1.149 1)" style="font-size:34.5px;fill:#999">14</text>
<text class="lbl" transform="translate(80.75 434.50) scale(1.116 1)" style="font-size:34.5px;fill:#999">13</text>
<text class="lbl" transform="translate(220.75 440.00) scale(1.116 1)" style="font-size:34.5px;fill:#999">10</text>
<text class="lbl" transform="translate(210.70 498.75) scale(1.034 1)" style="font-size:34.5px;fill:#999">9</text>
<text class="lbl" transform="translate(279.20 538.00) scale(0.982 1)" style="font-size:34.5px;fill:#999">2</text>
<text class="lbl" transform="translate(370.00 528.00) scale(0.992 1)" style="font-size:34.5px;fill:#999">1</text>
<text class="lbl" transform="translate(450.70 476.25) scale(0.956 1)" style="font-size:34.5px;fill:#999">7</text>
<text class="lbl" transform="translate(422.70 602.50) scale(1.086 1)" style="font-size:34.5px;fill:#999">5</text>
<text class="lbl" transform="translate(785.00 479.60) scale(1.118 1)" style="font-size:34.5px;fill:#999">17</text>
<text class="lbl" transform="translate(841.20 539.70) scale(1.128 1)" style="font-size:34.5px;fill:#999">16</text>
<text class="lbl" transform="translate(892.70 662.70) scale(1.105 1)" style="font-size:34.5px;fill:#999">18</text>
<text class="lbl" transform="translate(122.60 621.00) scale(1.154 1)" style="font-size:34.5px;fill:#999">11</text>
<text class="lbl" transform="translate(238.00 642.00) scale(1.071 1)" style="font-size:34.5px;fill:#999">12</text>
<path d="M 91.0 59.0 L 103.0 73.8" stroke="#999" stroke-width="2.0" fill="none"/>
<path d="M 108.0 80.0 L 98.1 76.4 L 106.5 69.6 Z" fill="#999"/>
<path d="M 546.0 185.0 L 546.0 203.6" stroke="#999" stroke-width="2.0" fill="none"/>
<path d="M 546.0 211.6 L 540.6 202.6 L 551.4 202.6 Z" fill="#999"/>
<path d="M 674.8 151.0 L 674.8 170.4" stroke="#999" stroke-width="2.0" fill="none"/>
<path d="M 674.8 178.4 L 669.4 169.4 L 680.2 169.4 Z" fill="#999"/>
<path d="M 805.9 122.0 L 805.9 141.2" stroke="#999" stroke-width="2.0" fill="none"/>
<path d="M 805.9 149.2 L 800.5 140.2 L 811.3 140.2 Z" fill="#999"/>
<path d="M 926.2 105.6 L 914.7 121.3" stroke="#999" stroke-width="2.0" fill="none"/>
<path d="M 910.0 127.8 L 911.0 117.3 L 919.7 123.7 Z" fill="#999"/>
<path d="M 866.0 350.0 L 866.0 368.4" stroke="#999" stroke-width="2.0" fill="none"/>
<path d="M 866.0 376.4 L 860.6 367.4 L 871.4 367.4 Z" fill="#999"/>
<path d="M 117.0 343.0 L 117.0 323.8" stroke="#999" stroke-width="2.0" fill="none"/>
<path d="M 117.0 315.8 L 122.4 324.8 L 111.6 324.8 Z" fill="#999"/>
<path d="M 195.8 461.5 L 195.8 323.2" stroke="#999" stroke-width="2.0" fill="none"/>
<path d="M 195.8 315.2 L 201.2 324.2 L 190.3 324.2 Z" fill="#999"/>
<path d="M 237.5 410.0 L 237.5 398.0" stroke="#999" stroke-width="2.0" fill="none"/>
<path d="M 237.5 390.0 L 242.9 399.0 L 232.1 399.0 Z" fill="#999"/>
<path d="M 286.6 507.5 L 286.6 488.8" stroke="#999" stroke-width="2.0" fill="none"/>
<path d="M 286.6 480.8 L 292.0 489.8 L 281.2 489.8 Z" fill="#999"/>
<path d="M 379.0 498.5 L 379.0 479.0" stroke="#999" stroke-width="2.0" fill="none"/>
<path d="M 379.0 471.0 L 384.4 480.0 L 373.6 480.0 Z" fill="#999"/>
<path d="M 456.0 443.8 L 456.0 424.2" stroke="#999" stroke-width="2.0" fill="none"/>
<path d="M 456.0 416.2 L 461.4 425.2 L 450.6 425.2 Z" fill="#999"/>
<path d="M 431.0 571.0 L 431.0 552.2" stroke="#999" stroke-width="2.0" fill="none"/>
<path d="M 431.0 544.2 L 436.4 553.2 L 425.6 553.2 Z" fill="#999"/>
<path d="M 783.7 469.4 L 769.0 469.4" stroke="#999" stroke-width="2.0" fill="none"/>
<path d="M 761.0 469.4 L 770.0 464.0 L 770.0 474.8 Z" fill="#999"/>
<path d="M 832.7 590.2 L 787.6 590.2" stroke="#999" stroke-width="2.0" fill="none"/>
<path d="M 779.6 590.2 L 788.6 584.8 L 788.6 595.6 Z" fill="#999"/>
<path d="M 890.9 652.8 L 872.0 652.8" stroke="#999" stroke-width="2.0" fill="none"/>
<path d="M 864.0 652.8 L 873.0 647.4 L 873.0 658.2 Z" fill="#999"/>
<path d="M 138.0 590.0 L 138.0 571.0" stroke="#999" stroke-width="2.0" fill="none"/>
<path d="M 138.0 563.0 L 143.4 572.0 L 132.6 572.0 Z" fill="#999"/>
<path d="M 253.6 610.0 L 253.6 591.6" stroke="#999" stroke-width="2.0" fill="none"/>
<path d="M 253.6 583.6 L 259.0 592.6 L 248.2 592.6 Z" fill="#999"/>
<path d="M 97 389.5 L 97 403" stroke="#999" stroke-width="2.0" fill="none"/>
<path d="M 194.75 460.5 L 237.5 460.5 L 237.5 446 M 217.5 460.5 L 217.5 468" stroke="#999" stroke-width="2.0" fill="none"/>
<path d="M 826 469.4 L 832.7 469.4 L 832.7 591.2 M 832.7 528.8 L 840.5 528.8" stroke="#999" stroke-width="2.0" fill="none"/>
<text class="lbl" transform="translate(473.70 176.00) scale(1.105 1)" style="font-size:34.5px;fill:#000">20</text>
<path d="M 474.0 149.0 L 462.2 133.0" stroke="#000" stroke-width="2.2" fill="none"/>
<path d="M 457.4 126.6 L 467.1 130.6 L 458.4 137.0 Z" fill="#000"/>
<!-- banner text -->
<text class="lbl" transform="translate(211.20 735.50) scale(1.125 1)" style="font-size:29.5px;fill:#000">Part or sub-assembly is #20 in diagram</text>
<text class="lbl" transform="translate(172.70 767.00) scale(1.131 1)" style="font-size:29.5px;fill:#000">Diagram may not be specific to your vehicle</text>
</svg>
</body></html>
